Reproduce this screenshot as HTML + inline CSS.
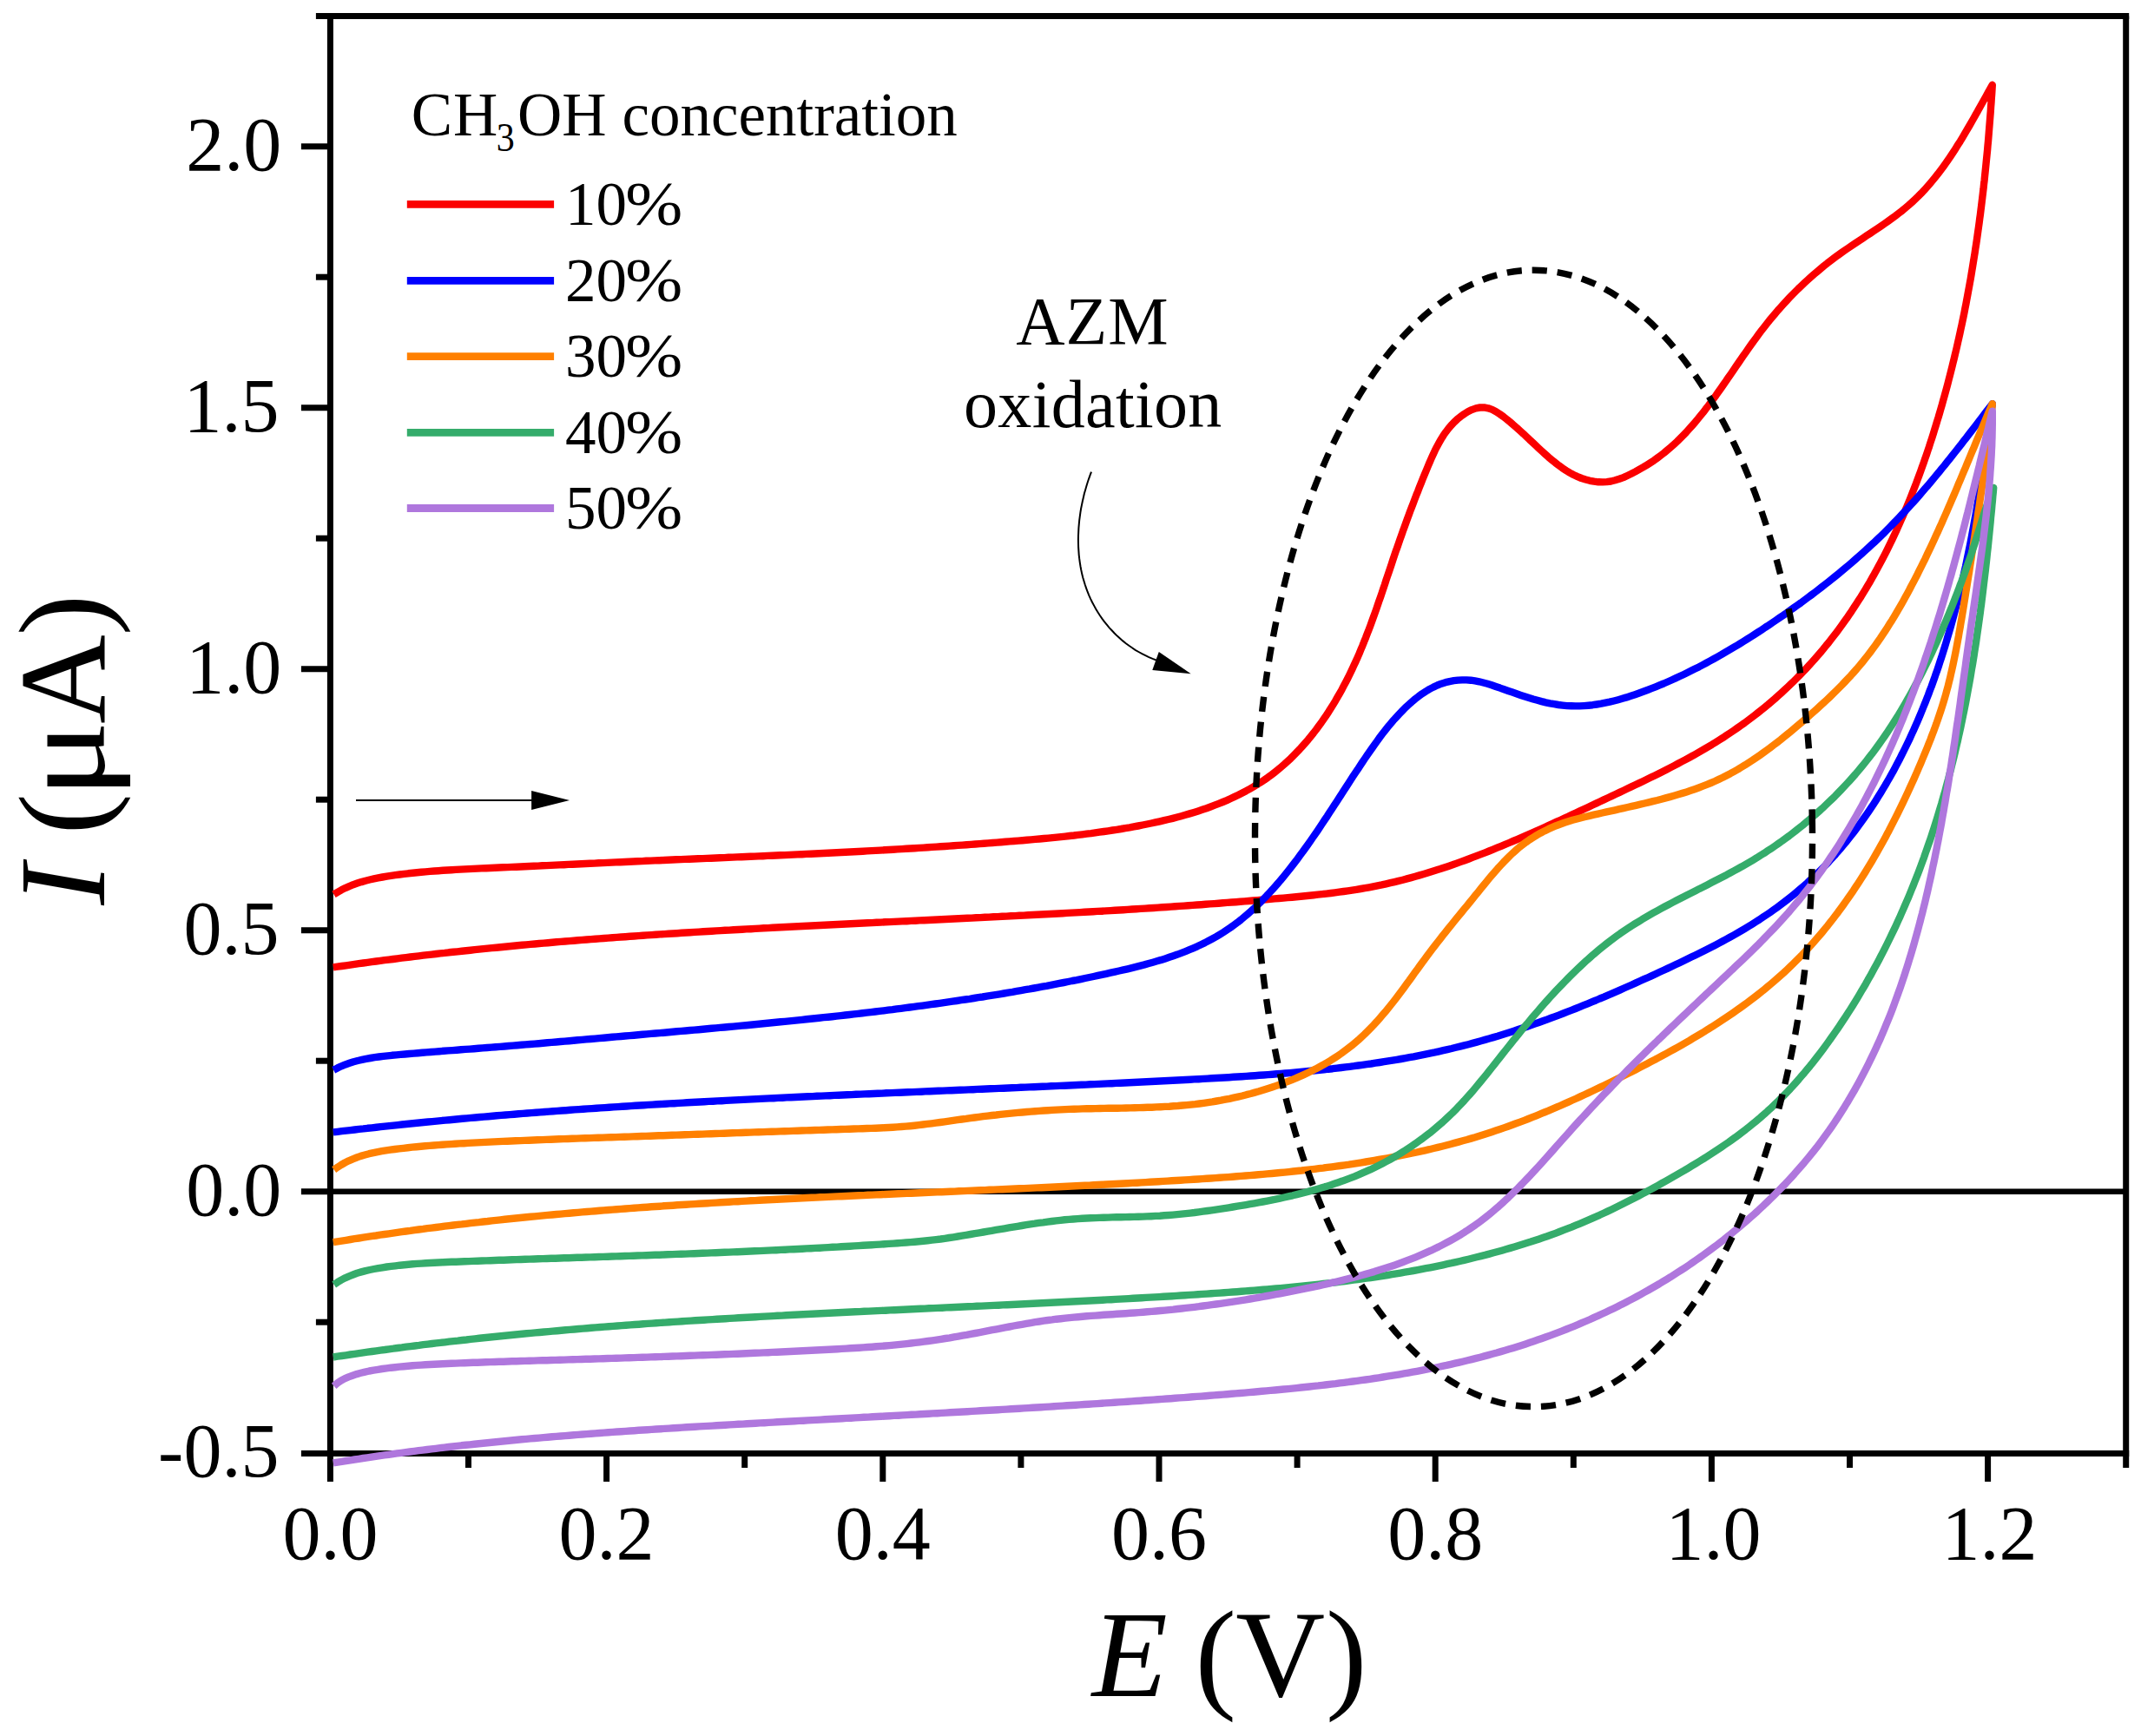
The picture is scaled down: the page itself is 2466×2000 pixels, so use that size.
<!DOCTYPE html>
<html><head><meta charset="utf-8"><title>CV</title>
<style>
html,body{margin:0;padding:0;background:#fff;}
svg{display:block;}
text{font-family:"Liberation Serif","Times New Roman",serif;fill:#000;}
</style></head><body>
<svg xmlns="http://www.w3.org/2000/svg" width="2466" height="2000" viewBox="0 0 2466 2000">
<rect width="2466" height="2000" fill="#fff"/>

<g stroke="#000" stroke-width="7" fill="none" stroke-linecap="butt">
<path d="M376.9,1674.5 H2452.2"/>
<path d="M363.9,18.5 H2452.2"/>
<path d="M380.4,18.5 V1707.0"/>
<path d="M2448.7,18.5 V1691.0"/>
<path d="M380.4,1372.7 H2448.7" stroke-width="6.6"/>
<path d="M539.5,1674.5 V1691.0"/>
<path d="M698.6,1674.5 V1707.0"/>
<path d="M857.7,1674.5 V1691.0"/>
<path d="M1016.8,1674.5 V1707.0"/>
<path d="M1175.9,1674.5 V1691.0"/>
<path d="M1335.0,1674.5 V1707.0"/>
<path d="M1494.1,1674.5 V1691.0"/>
<path d="M1653.2,1674.5 V1707.0"/>
<path d="M1812.3,1674.5 V1691.0"/>
<path d="M1971.4,1674.5 V1707.0"/>
<path d="M2130.5,1674.5 V1691.0"/>
<path d="M2289.6,1674.5 V1707.0"/>
<path d="M380.4,1674.5 H346.9"/>
<path d="M380.4,1523.2 H363.9"/>
<path d="M380.4,1372.7 H346.9"/>
<path d="M380.4,1222.2 H363.9"/>
<path d="M380.4,1071.7 H346.9"/>
<path d="M380.4,921.2 H363.9"/>
<path d="M380.4,770.7 H346.9"/>
<path d="M380.4,620.2 H363.9"/>
<path d="M380.4,469.7 H346.9"/>
<path d="M380.4,319.2 H363.9"/>
<path d="M380.4,168.7 H346.9"/>
</g>
<g font-size="88px">
<text x="380.4" y="1796" text-anchor="middle">0.0</text>
<text x="698.6" y="1796" text-anchor="middle">0.2</text>
<text x="1016.8" y="1796" text-anchor="middle">0.4</text>
<text x="1335.0" y="1796" text-anchor="middle">0.6</text>
<text x="1653.2" y="1796" text-anchor="middle">0.8</text>
<text x="1973.4" y="1796" text-anchor="middle">1.0</text>
<text x="2291.6" y="1796" text-anchor="middle">1.2</text>
<text x="321.4" y="1700.7" text-anchor="end">-0.5</text>
<text x="324.2" y="1399.7" text-anchor="end">0.0</text>
<text x="321.4" y="1098.7" text-anchor="end">0.5</text>
<text x="324.2" y="797.7" text-anchor="end">1.0</text>
<text x="321.4" y="496.7" text-anchor="end">1.5</text>
<text x="324.2" y="195.7" text-anchor="end">2.0</text>
</g>
<g font-size="142.5px">
<text x="1257.7" y="1954" font-style="italic">E</text>
<text x="1376.6" y="1954" font-style="normal">(</text>
<text x="1423.2" y="1954" font-style="normal">V</text>
<text x="1526.9" y="1954" font-style="normal">)</text>
<g transform="translate(120.2,1047) rotate(-90)">
<text x="4.3" y="0" font-style="italic">I</text>
<text x="85.6" y="0" font-style="normal">(</text>
<text x="127.5" y="0" font-style="normal" textLength="89.3" lengthAdjust="spacingAndGlyphs">μ</text>
<text x="213.1" y="0" font-style="normal">A</text>
<text x="314.7" y="0" font-style="normal">)</text>
</g></g>
<g fill="none" stroke-width="8.4" stroke-linejoin="round" stroke-linecap="butt">
<path stroke="#fb0000" d="M384.5,1030.4 L388.8,1027.8 L393.2,1025.3 L397.7,1023.1 L402.2,1021.1 L406.8,1019.2 L411.5,1017.6 L416.2,1016.1 L421.0,1014.7 L425.8,1013.5 L430.7,1012.4 L435.6,1011.4 L440.5,1010.5 L445.4,1009.7 L450.4,1008.9 L455.3,1008.2 L460.3,1007.5 L465.3,1006.9 L470.2,1006.3 L475.2,1005.8 L480.2,1005.3 L485.1,1004.8 L490.1,1004.4 L495.1,1003.9 L500.1,1003.5 L505.0,1003.2 L510.0,1002.8 L515.0,1002.5 L520.0,1002.2 L524.9,1001.9 L529.9,1001.6 L534.9,1001.4 L539.9,1001.1 L544.9,1000.9 L549.8,1000.6 L554.8,1000.4 L559.8,1000.2 L564.8,1000.0 L569.8,999.8 L574.8,999.5 L579.7,999.3 L584.7,999.1 L589.7,998.9 L594.7,998.7 L599.7,998.5 L604.7,998.2 L609.7,998.0 L614.7,997.8 L619.6,997.6 L624.6,997.3 L629.6,997.1 L634.6,996.9 L639.6,996.6 L644.6,996.4 L649.6,996.2 L654.6,995.9 L659.6,995.7 L664.5,995.5 L669.5,995.2 L674.5,995.0 L679.5,994.8 L684.5,994.6 L689.5,994.3 L694.5,994.1 L699.5,993.9 L704.4,993.6 L709.4,993.4 L714.4,993.2 L719.4,993.0 L724.4,992.7 L729.4,992.5 L734.4,992.3 L739.4,992.1 L744.3,991.8 L749.3,991.6 L754.3,991.4 L759.3,991.2 L764.3,991.0 L769.3,990.8 L774.3,990.5 L779.2,990.3 L784.2,990.1 L789.2,989.9 L794.2,989.7 L799.2,989.5 L804.2,989.3 L809.1,989.1 L814.1,988.9 L819.1,988.7 L824.1,988.5 L829.1,988.3 L834.1,988.1 L839.1,987.8 L844.0,987.6 L849.0,987.4 L854.0,987.2 L859.0,987.0 L864.0,986.8 L869.0,986.6 L873.9,986.4 L878.9,986.2 L883.9,985.9 L888.9,985.7 L893.9,985.5 L898.9,985.3 L903.9,985.1 L908.9,984.9 L913.8,984.6 L918.8,984.4 L923.8,984.2 L928.8,983.9 L933.8,983.7 L938.8,983.5 L943.8,983.2 L948.8,983.0 L953.8,982.7 L958.8,982.5 L963.8,982.3 L968.7,982.0 L973.7,981.7 L978.7,981.5 L983.7,981.2 L988.7,981.0 L993.7,980.7 L998.7,980.4 L1003.7,980.1 L1008.7,979.9 L1013.7,979.6 L1018.7,979.3 L1023.7,979.0 L1028.7,978.7 L1033.7,978.4 L1038.7,978.1 L1043.7,977.8 L1048.6,977.5 L1053.6,977.2 L1058.6,976.9 L1063.6,976.6 L1068.6,976.3 L1073.6,975.9 L1078.6,975.6 L1083.5,975.3 L1088.5,975.0 L1093.5,974.6 L1098.5,974.3 L1103.4,973.9 L1108.4,973.6 L1113.4,973.2 L1118.3,972.9 L1123.3,972.5 L1128.3,972.1 L1133.2,971.8 L1138.2,971.4 L1143.1,971.0 L1148.1,970.6 L1153.0,970.2 L1158.0,969.8 L1162.9,969.4 L1167.9,969.0 L1172.8,968.6 L1177.7,968.2 L1182.7,967.8 L1187.6,967.4 L1192.5,966.9 L1197.5,966.5 L1202.4,966.0 L1207.3,965.6 L1212.2,965.1 L1217.2,964.6 L1222.1,964.1 L1227.0,963.6 L1231.9,963.0 L1236.9,962.5 L1241.8,961.9 L1246.7,961.3 L1251.6,960.7 L1256.6,960.1 L1261.5,959.4 L1266.4,958.7 L1271.4,958.0 L1276.3,957.3 L1281.3,956.5 L1286.2,955.8 L1291.2,955.0 L1296.1,954.1 L1301.1,953.3 L1306.0,952.4 L1311.0,951.5 L1316.0,950.5 L1321.0,949.5 L1325.9,948.5 L1330.9,947.4 L1335.9,946.3 L1340.8,945.2 L1345.8,944.0 L1350.7,942.8 L1355.7,941.5 L1360.6,940.2 L1365.5,938.8 L1370.3,937.4 L1375.2,935.9 L1380.0,934.4 L1384.8,932.8 L1389.6,931.2 L1394.3,929.5 L1399.0,927.7 L1403.7,925.9 L1408.4,924.0 L1413.0,922.1 L1417.5,920.0 L1422.0,917.9 L1426.5,915.8 L1430.9,913.5 L1435.3,911.2 L1439.6,908.8 L1443.8,906.4 L1448.0,903.8 L1452.2,901.2 L1456.3,898.5 L1460.3,895.7 L1464.2,892.8 L1468.1,889.8 L1471.9,886.8 L1475.7,883.6 L1479.4,880.4 L1483.0,877.1 L1486.6,873.8 L1490.1,870.3 L1493.5,866.8 L1496.9,863.3 L1500.2,859.6 L1503.5,855.9 L1506.7,852.2 L1509.8,848.3 L1512.9,844.5 L1516.0,840.5 L1518.9,836.5 L1521.9,832.5 L1524.7,828.4 L1527.5,824.3 L1530.3,820.1 L1533.0,815.8 L1535.6,811.6 L1538.2,807.3 L1540.7,802.9 L1543.2,798.6 L1545.7,794.2 L1548.0,789.7 L1550.4,785.2 L1552.7,780.8 L1554.9,776.2 L1557.1,771.7 L1559.2,767.1 L1561.3,762.6 L1563.4,758.0 L1565.4,753.4 L1567.3,748.7 L1569.3,744.1 L1571.1,739.4 L1573.0,734.8 L1574.8,730.1 L1576.6,725.4 L1578.4,720.7 L1580.1,716.0 L1581.8,711.3 L1583.5,706.6 L1585.2,701.9 L1586.8,697.2 L1588.4,692.4 L1590.1,687.7 L1591.7,683.0 L1593.3,678.2 L1594.9,673.5 L1596.4,668.7 L1598.0,664.0 L1599.6,659.3 L1601.2,654.6 L1602.8,649.8 L1604.3,645.1 L1605.9,640.4 L1607.5,635.7 L1609.2,631.0 L1610.8,626.3 L1612.4,621.7 L1614.1,617.0 L1615.7,612.3 L1617.4,607.7 L1619.1,603.0 L1620.8,598.3 L1622.5,593.7 L1624.2,589.0 L1626.0,584.4 L1627.8,579.7 L1629.5,575.1 L1631.3,570.4 L1633.2,565.8 L1635.0,561.1 L1636.9,556.4 L1638.7,551.8 L1640.6,547.1 L1642.6,542.4 L1644.5,537.7 L1646.5,533.0 L1648.5,528.4 L1650.6,523.7 L1652.7,519.2 L1655.0,514.7 L1657.4,510.3 L1659.9,505.9 L1662.5,501.7 L1665.3,497.7 L1668.3,493.8 L1671.5,490.0 L1674.9,486.4 L1678.4,483.1 L1682.3,479.9 L1686.4,477.0 L1690.7,474.3 L1695.2,472.1 L1699.9,470.4 L1704.7,469.5 L1709.4,469.4 L1714.1,470.3 L1718.7,471.9 L1723.1,474.2 L1727.4,477.0 L1731.6,480.0 L1735.7,483.2 L1739.7,486.5 L1743.5,489.8 L1747.3,493.1 L1751.0,496.5 L1754.7,499.8 L1758.3,503.2 L1761.8,506.6 L1765.4,509.9 L1769.0,513.3 L1772.6,516.7 L1776.2,520.0 L1779.9,523.4 L1783.6,526.7 L1787.5,529.9 L1791.4,533.1 L1795.4,536.2 L1799.5,539.2 L1803.7,542.0 L1808.0,544.6 L1812.4,547.0 L1817.0,549.1 L1821.6,551.0 L1826.4,552.5 L1831.2,553.8 L1836.0,554.7 L1840.9,555.3 L1845.8,555.4 L1850.7,555.1 L1855.5,554.5 L1860.3,553.3 L1865.1,551.8 L1869.8,550.1 L1874.4,548.0 L1879.0,545.8 L1883.6,543.4 L1888.0,540.9 L1892.4,538.4 L1896.7,535.8 L1901.0,533.1 L1905.1,530.4 L1909.1,527.5 L1913.1,524.5 L1917.0,521.5 L1920.8,518.3 L1924.5,515.1 L1928.2,511.8 L1931.8,508.5 L1935.3,505.0 L1938.8,501.5 L1942.2,498.0 L1945.5,494.3 L1948.8,490.6 L1952.0,486.9 L1955.2,483.1 L1958.4,479.2 L1961.5,475.4 L1964.5,471.4 L1967.6,467.5 L1970.6,463.5 L1973.5,459.4 L1976.5,455.4 L1979.4,451.3 L1982.3,447.2 L1985.2,443.0 L1988.1,438.9 L1990.9,434.7 L1993.8,430.6 L1996.7,426.4 L1999.5,422.2 L2002.4,418.0 L2005.2,413.9 L2008.1,409.7 L2011.0,405.6 L2013.9,401.4 L2016.8,397.3 L2019.7,393.2 L2022.7,389.2 L2025.7,385.1 L2028.7,381.1 L2031.7,377.2 L2034.8,373.2 L2037.9,369.3 L2041.1,365.5 L2044.3,361.7 L2047.5,357.9 L2050.8,354.2 L2054.1,350.5 L2057.5,346.8 L2060.9,343.2 L2064.3,339.6 L2067.8,336.1 L2071.3,332.6 L2074.9,329.2 L2078.5,325.8 L2082.1,322.5 L2085.8,319.2 L2089.5,315.9 L2093.3,312.7 L2097.1,309.5 L2100.9,306.3 L2104.8,303.2 L2108.8,300.2 L2112.7,297.2 L2116.7,294.2 L2120.8,291.3 L2124.9,288.4 L2129.0,285.6 L2133.2,282.8 L2137.3,280.0 L2141.5,277.2 L2145.7,274.4 L2149.9,271.6 L2154.1,268.9 L2158.3,266.1 L2162.5,263.3 L2166.6,260.5 L2170.7,257.6 L2174.8,254.7 L2178.9,251.8 L2182.9,248.9 L2186.9,245.8 L2190.8,242.8 L2194.6,239.6 L2198.4,236.4 L2202.1,233.1 L2205.7,229.7 L2209.3,226.3 L2212.8,222.8 L2216.2,219.2 L2219.5,215.5 L2222.8,211.7 L2226.0,207.9 L2229.1,204.1 L2232.2,200.2 L2235.2,196.2 L2238.2,192.2 L2241.1,188.1 L2244.0,184.0 L2246.8,179.8 L2249.6,175.6 L2252.3,171.4 L2255.0,167.1 L2257.7,162.9 L2260.3,158.6 L2262.9,154.2 L2265.4,149.9 L2268.0,145.5 L2270.5,141.2 L2273.0,136.8 L2275.4,132.4 L2277.9,128.1 L2280.3,123.7 L2282.8,119.3 L2285.2,115.0 L2287.6,110.7 L2290.0,106.4 L2292.4,102.1 L2294.8,97.8 L2294.5,102.8 L2294.2,107.9 L2293.8,112.9 L2293.5,117.9 L2293.1,122.9 L2292.8,127.9 L2292.4,132.9 L2292.0,137.9 L2291.6,142.9 L2291.2,147.9 L2290.8,152.9 L2290.4,157.9 L2290.0,162.9 L2289.5,167.9 L2289.1,172.9 L2288.6,177.9 L2288.1,182.8 L2287.6,187.8 L2287.1,192.8 L2286.6,197.7 L2286.1,202.7 L2285.6,207.7 L2285.0,212.6 L2284.5,217.6 L2283.9,222.5 L2283.3,227.5 L2282.7,232.4 L2282.1,237.4 L2281.5,242.3 L2280.9,247.2 L2280.2,252.2 L2279.6,257.1 L2278.9,262.0 L2278.2,266.9 L2277.5,271.9 L2276.8,276.8 L2276.1,281.7 L2275.3,286.6 L2274.6,291.5 L2273.8,296.4 L2273.0,301.3 L2272.2,306.2 L2271.4,311.1 L2270.6,316.0 L2269.8,320.9 L2268.9,325.8 L2268.0,330.7 L2267.1,335.6 L2266.2,340.4 L2265.3,345.3 L2264.4,350.2 L2263.4,355.1 L2262.5,359.9 L2261.5,364.8 L2260.5,369.7 L2259.5,374.5 L2258.4,379.4 L2257.4,384.2 L2256.3,389.1 L2255.2,393.9 L2254.1,398.8 L2253.0,403.6 L2251.8,408.5 L2250.7,413.3 L2249.5,418.1 L2248.3,423.0 L2247.1,427.8 L2245.9,432.6 L2244.6,437.5 L2243.4,442.3 L2242.1,447.1 L2240.8,451.9 L2239.5,456.7 L2238.1,461.5 L2236.8,466.3 L2235.4,471.1 L2234.0,476.0 L2232.6,480.8 L2231.1,485.5 L2229.7,490.3 L2228.2,495.1 L2226.7,499.9 L2225.2,504.7 L2223.6,509.5 L2222.1,514.3 L2220.5,519.0 L2218.9,523.8 L2217.2,528.6 L2215.6,533.3 L2213.9,538.0 L2212.2,542.8 L2210.5,547.5 L2208.7,552.2 L2207.0,556.9 L2205.2,561.6 L2203.3,566.3 L2201.5,571.0 L2199.6,575.7 L2197.7,580.3 L2195.8,585.0 L2193.8,589.6 L2191.9,594.2 L2189.8,598.8 L2187.8,603.4 L2185.7,608.0 L2183.7,612.5 L2181.5,617.1 L2179.4,621.6 L2177.2,626.1 L2175.0,630.6 L2172.8,635.1 L2170.5,639.6 L2168.2,644.0 L2165.9,648.4 L2163.5,652.8 L2161.1,657.2 L2158.7,661.6 L2156.2,665.9 L2153.8,670.3 L2151.2,674.6 L2148.7,678.9 L2146.1,683.1 L2143.5,687.4 L2140.8,691.6 L2138.1,695.8 L2135.4,699.9 L2132.7,704.1 L2129.9,708.2 L2127.1,712.3 L2124.2,716.3 L2121.3,720.4 L2118.4,724.4 L2115.4,728.4 L2112.4,732.3 L2109.3,736.3 L2106.3,740.2 L2103.1,744.0 L2100.0,747.9 L2096.8,751.7 L2093.5,755.5 L2090.3,759.2 L2086.9,763.0 L2083.6,766.6 L2080.2,770.3 L2076.8,773.9 L2073.3,777.5 L2069.8,781.1 L2066.3,784.6 L2062.7,788.1 L2059.1,791.5 L2055.4,794.9 L2051.7,798.3 L2048.0,801.7 L2044.3,805.0 L2040.5,808.2 L2036.7,811.5 L2032.8,814.7 L2029.0,817.8 L2025.1,820.9 L2021.1,824.0 L2017.2,827.0 L2013.2,830.0 L2009.2,833.0 L2005.1,835.9 L2001.0,838.8 L1996.9,841.6 L1992.8,844.4 L1988.7,847.1 L1984.5,849.9 L1980.3,852.5 L1976.0,855.2 L1971.8,857.8 L1967.5,860.3 L1963.2,862.9 L1958.9,865.4 L1954.6,867.8 L1950.3,870.3 L1945.9,872.7 L1941.5,875.1 L1937.1,877.4 L1932.7,879.8 L1928.3,882.1 L1923.9,884.4 L1919.4,886.7 L1915.0,888.9 L1910.5,891.2 L1906.0,893.4 L1901.6,895.6 L1897.1,897.8 L1892.6,900.0 L1888.1,902.1 L1883.5,904.3 L1879.0,906.4 L1874.5,908.6 L1870.0,910.7 L1865.4,912.9 L1860.9,915.0 L1856.4,917.1 L1851.9,919.2 L1847.3,921.4 L1842.8,923.5 L1838.3,925.6 L1833.7,927.7 L1829.2,929.9 L1824.7,932.0 L1820.2,934.1 L1815.6,936.2 L1811.1,938.3 L1806.6,940.5 L1802.0,942.6 L1797.5,944.7 L1793.0,946.7 L1788.4,948.8 L1783.9,950.9 L1779.3,953.0 L1774.8,955.0 L1770.2,957.1 L1765.7,959.1 L1761.1,961.1 L1756.5,963.1 L1752.0,965.1 L1747.4,967.1 L1742.8,969.0 L1738.2,971.0 L1733.6,972.9 L1729.0,974.8 L1724.4,976.7 L1719.8,978.6 L1715.1,980.5 L1710.5,982.3 L1705.8,984.1 L1701.2,985.9 L1696.5,987.7 L1691.8,989.5 L1687.2,991.2 L1682.5,992.9 L1677.8,994.6 L1673.1,996.3 L1668.3,997.9 L1663.6,999.5 L1658.9,1001.1 L1654.1,1002.6 L1649.4,1004.1 L1644.6,1005.6 L1639.8,1007.0 L1635.0,1008.4 L1630.2,1009.8 L1625.4,1011.1 L1620.6,1012.4 L1615.8,1013.7 L1611.0,1014.9 L1606.1,1016.1 L1601.3,1017.2 L1596.4,1018.3 L1591.6,1019.4 L1586.7,1020.4 L1581.8,1021.4 L1577.0,1022.3 L1572.1,1023.2 L1567.2,1024.0 L1562.3,1024.8 L1557.3,1025.6 L1552.4,1026.3 L1547.5,1027.0 L1542.6,1027.7 L1537.6,1028.4 L1532.7,1029.0 L1527.7,1029.6 L1522.8,1030.1 L1517.8,1030.7 L1512.9,1031.2 L1507.9,1031.7 L1503.0,1032.2 L1498.0,1032.7 L1493.0,1033.2 L1488.1,1033.7 L1483.1,1034.1 L1478.1,1034.6 L1473.1,1035.0 L1468.2,1035.4 L1463.2,1035.9 L1458.2,1036.3 L1453.3,1036.7 L1448.3,1037.1 L1443.3,1037.5 L1438.3,1038.0 L1433.4,1038.4 L1428.4,1038.8 L1423.4,1039.2 L1418.4,1039.5 L1413.4,1039.9 L1408.5,1040.3 L1403.5,1040.7 L1398.5,1041.1 L1393.5,1041.4 L1388.6,1041.8 L1383.6,1042.2 L1378.6,1042.5 L1373.6,1042.9 L1368.6,1043.2 L1363.7,1043.6 L1358.7,1043.9 L1353.7,1044.3 L1348.7,1044.6 L1343.7,1045.0 L1338.7,1045.3 L1333.8,1045.6 L1328.8,1046.0 L1323.8,1046.3 L1318.8,1046.6 L1313.8,1046.9 L1308.8,1047.2 L1303.8,1047.5 L1298.9,1047.9 L1293.9,1048.2 L1288.9,1048.5 L1283.9,1048.8 L1278.9,1049.1 L1273.9,1049.4 L1268.9,1049.7 L1264.0,1049.9 L1259.0,1050.2 L1254.0,1050.5 L1249.0,1050.8 L1244.0,1051.1 L1239.0,1051.4 L1234.0,1051.6 L1229.0,1051.9 L1224.0,1052.2 L1219.1,1052.5 L1214.1,1052.7 L1209.1,1053.0 L1204.1,1053.3 L1199.1,1053.5 L1194.1,1053.8 L1189.1,1054.0 L1184.1,1054.3 L1179.1,1054.6 L1174.1,1054.8 L1169.2,1055.1 L1164.2,1055.3 L1159.2,1055.6 L1154.2,1055.8 L1149.2,1056.1 L1144.2,1056.3 L1139.2,1056.6 L1134.2,1056.8 L1129.2,1057.1 L1124.2,1057.3 L1119.2,1057.6 L1114.2,1057.8 L1109.3,1058.0 L1104.3,1058.3 L1099.3,1058.5 L1094.3,1058.8 L1089.3,1059.0 L1084.3,1059.3 L1079.3,1059.5 L1074.3,1059.7 L1069.3,1060.0 L1064.3,1060.2 L1059.3,1060.4 L1054.3,1060.7 L1049.4,1060.9 L1044.4,1061.2 L1039.4,1061.4 L1034.4,1061.6 L1029.4,1061.9 L1024.4,1062.1 L1019.4,1062.3 L1014.4,1062.6 L1009.4,1062.8 L1004.4,1063.1 L999.4,1063.3 L994.5,1063.5 L989.5,1063.8 L984.5,1064.0 L979.5,1064.3 L974.5,1064.5 L969.5,1064.8 L964.5,1065.0 L959.5,1065.2 L954.5,1065.5 L949.5,1065.7 L944.6,1066.0 L939.6,1066.2 L934.6,1066.5 L929.6,1066.7 L924.6,1067.0 L919.6,1067.3 L914.6,1067.5 L909.6,1067.8 L904.7,1068.0 L899.7,1068.3 L894.7,1068.5 L889.7,1068.8 L884.7,1069.1 L879.7,1069.3 L874.7,1069.6 L869.8,1069.9 L864.8,1070.2 L859.8,1070.4 L854.8,1070.7 L849.8,1071.0 L844.8,1071.3 L839.9,1071.6 L834.9,1071.8 L829.9,1072.1 L824.9,1072.4 L819.9,1072.7 L814.9,1073.0 L810.0,1073.3 L805.0,1073.6 L800.0,1073.9 L795.0,1074.2 L790.0,1074.5 L785.1,1074.8 L780.1,1075.2 L775.1,1075.5 L770.1,1075.8 L765.2,1076.1 L760.2,1076.4 L755.2,1076.8 L750.2,1077.1 L745.3,1077.4 L740.3,1077.8 L735.3,1078.1 L730.3,1078.5 L725.4,1078.8 L720.4,1079.2 L715.4,1079.5 L710.4,1079.9 L705.5,1080.2 L700.5,1080.6 L695.5,1081.0 L690.6,1081.4 L685.6,1081.7 L680.6,1082.1 L675.7,1082.5 L670.7,1082.9 L665.7,1083.3 L660.8,1083.7 L655.8,1084.1 L650.8,1084.5 L645.9,1084.9 L640.9,1085.3 L635.9,1085.8 L631.0,1086.2 L626.0,1086.6 L621.0,1087.0 L616.1,1087.5 L611.1,1087.9 L606.2,1088.4 L601.2,1088.8 L596.2,1089.3 L591.3,1089.8 L586.3,1090.2 L581.4,1090.7 L576.4,1091.2 L571.5,1091.7 L566.5,1092.1 L561.6,1092.6 L556.6,1093.1 L551.7,1093.6 L546.7,1094.2 L541.8,1094.7 L536.8,1095.2 L531.9,1095.7 L526.9,1096.3 L522.0,1096.8 L517.0,1097.3 L512.1,1097.9 L507.1,1098.4 L502.2,1099.0 L497.2,1099.6 L492.3,1100.1 L487.4,1100.7 L482.4,1101.3 L477.5,1101.9 L472.5,1102.5 L467.6,1103.1 L462.7,1103.7 L457.7,1104.3 L452.8,1105.0 L447.9,1105.6 L442.9,1106.2 L438.0,1106.9 L433.1,1107.5 L428.1,1108.2 L423.2,1108.8 L418.3,1109.5 L413.3,1110.2 L408.4,1110.9 L403.5,1111.6 L398.6,1112.3 L393.6,1113.0 L388.7,1113.7 L383.8,1114.4"/>
<path stroke="#0000ff" d="M384.2,1232.7 L388.7,1230.4 L393.2,1228.3 L397.8,1226.4 L402.5,1224.8 L407.2,1223.3 L412.0,1222.0 L416.9,1220.9 L421.7,1219.9 L426.6,1219.0 L431.5,1218.2 L436.5,1217.5 L441.5,1216.9 L446.4,1216.4 L451.4,1215.8 L456.4,1215.4 L461.4,1214.9 L466.4,1214.5 L471.4,1214.0 L476.4,1213.6 L481.3,1213.2 L486.3,1212.8 L491.3,1212.4 L496.3,1212.0 L501.2,1211.6 L506.2,1211.2 L511.2,1210.8 L516.2,1210.4 L521.1,1210.1 L526.1,1209.7 L531.1,1209.3 L536.0,1208.9 L541.0,1208.6 L546.0,1208.2 L551.0,1207.8 L555.9,1207.4 L560.9,1207.0 L565.9,1206.6 L570.8,1206.2 L575.8,1205.9 L580.8,1205.5 L585.8,1205.0 L590.7,1204.6 L595.7,1204.2 L600.7,1203.8 L605.6,1203.4 L610.6,1203.0 L615.6,1202.6 L620.6,1202.2 L625.5,1201.7 L630.5,1201.3 L635.5,1200.9 L640.5,1200.5 L645.4,1200.0 L650.4,1199.6 L655.4,1199.2 L660.4,1198.7 L665.3,1198.3 L670.3,1197.9 L675.3,1197.4 L680.3,1197.0 L685.2,1196.6 L690.2,1196.1 L695.2,1195.7 L700.2,1195.3 L705.1,1194.8 L710.1,1194.4 L715.1,1194.0 L720.0,1193.5 L725.0,1193.1 L730.0,1192.7 L735.0,1192.2 L739.9,1191.8 L744.9,1191.4 L749.9,1190.9 L754.9,1190.5 L759.8,1190.1 L764.8,1189.7 L769.8,1189.2 L774.8,1188.8 L779.7,1188.3 L784.7,1187.9 L789.7,1187.5 L794.6,1187.0 L799.6,1186.6 L804.6,1186.2 L809.6,1185.7 L814.5,1185.3 L819.5,1184.8 L824.5,1184.4 L829.4,1183.9 L834.4,1183.5 L839.4,1183.0 L844.3,1182.6 L849.3,1182.1 L854.3,1181.6 L859.3,1181.2 L864.2,1180.7 L869.2,1180.2 L874.2,1179.8 L879.1,1179.3 L884.1,1178.8 L889.1,1178.3 L894.0,1177.8 L899.0,1177.3 L903.9,1176.9 L908.9,1176.4 L913.9,1175.9 L918.8,1175.4 L923.8,1174.8 L928.8,1174.3 L933.7,1173.8 L938.7,1173.3 L943.6,1172.8 L948.6,1172.2 L953.6,1171.7 L958.5,1171.2 L963.5,1170.6 L968.4,1170.1 L973.4,1169.5 L978.3,1169.0 L983.3,1168.4 L988.3,1167.8 L993.2,1167.3 L998.2,1166.7 L1003.1,1166.1 L1008.1,1165.5 L1013.0,1164.9 L1018.0,1164.3 L1022.9,1163.7 L1027.9,1163.1 L1032.8,1162.4 L1037.8,1161.8 L1042.7,1161.2 L1047.7,1160.5 L1052.6,1159.9 L1057.6,1159.2 L1062.5,1158.6 L1067.5,1157.9 L1072.4,1157.2 L1077.3,1156.5 L1082.3,1155.8 L1087.2,1155.1 L1092.2,1154.4 L1097.1,1153.7 L1102.0,1153.0 L1107.0,1152.2 L1111.9,1151.5 L1116.9,1150.8 L1121.8,1150.0 L1126.7,1149.2 L1131.7,1148.5 L1136.6,1147.7 L1141.5,1146.9 L1146.5,1146.1 L1151.4,1145.3 L1156.3,1144.5 L1161.2,1143.6 L1166.2,1142.8 L1171.1,1141.9 L1176.0,1141.1 L1180.9,1140.2 L1185.9,1139.4 L1190.8,1138.5 L1195.7,1137.6 L1200.6,1136.7 L1205.6,1135.8 L1210.5,1134.8 L1215.4,1133.9 L1220.3,1132.9 L1225.2,1132.0 L1230.1,1131.0 L1235.0,1130.0 L1240.0,1129.1 L1244.9,1128.1 L1249.8,1127.0 L1254.7,1126.0 L1259.6,1125.0 L1264.5,1123.9 L1269.4,1122.9 L1274.3,1121.8 L1279.2,1120.7 L1284.1,1119.6 L1289.0,1118.5 L1293.9,1117.4 L1298.8,1116.3 L1303.7,1115.1 L1308.5,1113.9 L1313.4,1112.6 L1318.2,1111.4 L1323.0,1110.0 L1327.8,1108.7 L1332.6,1107.3 L1337.4,1105.9 L1342.1,1104.4 L1346.8,1102.8 L1351.5,1101.2 L1356.2,1099.6 L1360.8,1097.9 L1365.4,1096.1 L1370.0,1094.2 L1374.5,1092.3 L1379.0,1090.3 L1383.4,1088.2 L1387.8,1086.1 L1392.2,1083.8 L1396.5,1081.5 L1400.8,1079.1 L1405.0,1076.6 L1409.2,1074.0 L1413.3,1071.3 L1417.4,1068.5 L1421.4,1065.6 L1425.4,1062.7 L1429.3,1059.6 L1433.1,1056.4 L1436.9,1053.2 L1440.7,1049.9 L1444.4,1046.5 L1448.1,1043.0 L1451.7,1039.5 L1455.2,1035.9 L1458.8,1032.2 L1462.2,1028.5 L1465.7,1024.7 L1469.0,1020.9 L1472.4,1017.1 L1475.7,1013.2 L1478.9,1009.3 L1482.1,1005.4 L1485.3,1001.4 L1488.4,997.4 L1491.5,993.4 L1494.5,989.4 L1497.5,985.3 L1500.5,981.3 L1503.4,977.2 L1506.3,973.2 L1509.2,969.1 L1512.0,965.0 L1514.9,960.9 L1517.7,956.8 L1520.4,952.7 L1523.2,948.5 L1525.9,944.4 L1528.7,940.3 L1531.4,936.1 L1534.1,932.0 L1536.8,927.8 L1539.5,923.7 L1542.2,919.5 L1544.9,915.4 L1547.5,911.2 L1550.2,907.1 L1552.9,902.9 L1555.6,898.8 L1558.3,894.6 L1561.0,890.5 L1563.8,886.4 L1566.5,882.2 L1569.2,878.1 L1572.0,874.0 L1574.8,869.9 L1577.6,865.8 L1580.5,861.7 L1583.4,857.6 L1586.3,853.6 L1589.2,849.5 L1592.2,845.5 L1595.3,841.6 L1598.4,837.7 L1601.6,833.8 L1604.8,830.0 L1608.2,826.3 L1611.6,822.6 L1615.1,819.0 L1618.6,815.4 L1622.3,812.0 L1626.1,808.6 L1630.0,805.3 L1634.0,802.2 L1638.1,799.2 L1642.3,796.5 L1646.6,793.9 L1651.0,791.6 L1655.5,789.5 L1660.1,787.7 L1664.9,786.2 L1669.6,785.1 L1674.5,784.2 L1679.3,783.6 L1684.2,783.4 L1689.1,783.4 L1694.0,783.7 L1698.9,784.4 L1703.7,785.3 L1708.5,786.5 L1713.3,787.8 L1718.1,789.3 L1722.9,791.0 L1727.7,792.6 L1732.4,794.3 L1737.2,796.0 L1742.0,797.6 L1746.8,799.3 L1751.6,800.9 L1756.4,802.5 L1761.2,804.0 L1766.0,805.5 L1770.8,806.8 L1775.6,808.1 L1780.5,809.3 L1785.3,810.3 L1790.2,811.2 L1795.0,812.0 L1799.9,812.6 L1804.8,813.1 L1809.7,813.3 L1814.6,813.4 L1819.5,813.4 L1824.5,813.1 L1829.4,812.7 L1834.3,812.2 L1839.2,811.5 L1844.2,810.7 L1849.1,809.7 L1854.0,808.7 L1858.9,807.5 L1863.8,806.2 L1868.7,804.8 L1873.5,803.4 L1878.4,801.8 L1883.2,800.2 L1888.0,798.5 L1892.7,796.8 L1897.5,795.0 L1902.2,793.2 L1906.9,791.3 L1911.5,789.4 L1916.2,787.5 L1920.8,785.5 L1925.3,783.5 L1929.9,781.4 L1934.4,779.3 L1938.9,777.2 L1943.4,775.0 L1947.8,772.8 L1952.3,770.6 L1956.7,768.4 L1961.0,766.1 L1965.4,763.7 L1969.7,761.4 L1974.1,759.0 L1978.4,756.6 L1982.7,754.2 L1986.9,751.7 L1991.2,749.2 L1995.4,746.7 L1999.7,744.2 L2003.9,741.6 L2008.1,739.0 L2012.3,736.4 L2016.5,733.7 L2020.6,731.1 L2024.8,728.4 L2029.0,725.7 L2033.1,722.9 L2037.3,720.2 L2041.4,717.4 L2045.5,714.6 L2049.6,711.8 L2053.8,709.0 L2057.9,706.1 L2061.9,703.2 L2066.0,700.3 L2070.1,697.4 L2074.2,694.5 L2078.2,691.5 L2082.2,688.5 L2086.3,685.5 L2090.3,682.5 L2094.2,679.5 L2098.2,676.4 L2102.2,673.3 L2106.1,670.2 L2110.1,667.0 L2114.0,663.9 L2117.9,660.7 L2121.7,657.5 L2125.6,654.3 L2129.4,651.1 L2133.2,647.8 L2137.0,644.5 L2140.8,641.2 L2144.5,637.9 L2148.2,634.5 L2151.9,631.1 L2155.6,627.7 L2159.3,624.3 L2162.9,620.9 L2166.5,617.4 L2170.1,613.9 L2173.6,610.4 L2177.1,606.9 L2180.6,603.3 L2184.1,599.7 L2187.5,596.1 L2190.9,592.5 L2194.3,588.8 L2197.7,585.2 L2201.0,581.5 L2204.4,577.8 L2207.7,574.1 L2210.9,570.4 L2214.2,566.6 L2217.4,562.8 L2220.7,559.1 L2223.9,555.3 L2227.1,551.4 L2230.2,547.6 L2233.4,543.8 L2236.5,539.9 L2239.7,536.1 L2242.8,532.2 L2245.9,528.3 L2249.0,524.4 L2252.1,520.5 L2255.2,516.6 L2258.3,512.7 L2261.3,508.7 L2264.4,504.8 L2267.4,500.9 L2270.5,496.9 L2273.5,493.0 L2276.6,489.0 L2279.6,485.1 L2282.7,481.1 L2285.7,477.1 L2288.7,473.1 L2291.8,469.2 L2294.8,465.2 L2294.1,470.2 L2293.5,475.1 L2292.8,480.1 L2292.1,485.0 L2291.4,490.0 L2290.7,495.0 L2290.0,499.9 L2289.3,504.9 L2288.6,509.8 L2287.9,514.8 L2287.2,519.7 L2286.5,524.7 L2285.7,529.6 L2285.0,534.6 L2284.3,539.5 L2283.5,544.4 L2282.7,549.4 L2282.0,554.3 L2281.2,559.3 L2280.4,564.2 L2279.6,569.1 L2278.8,574.0 L2277.9,579.0 L2277.1,583.9 L2276.3,588.8 L2275.4,593.7 L2274.5,598.6 L2273.6,603.5 L2272.7,608.4 L2271.8,613.3 L2270.9,618.2 L2270.0,623.1 L2269.0,628.0 L2268.0,632.9 L2267.0,637.8 L2266.0,642.6 L2265.0,647.5 L2264.0,652.4 L2262.9,657.2 L2261.8,662.1 L2260.7,666.9 L2259.6,671.8 L2258.5,676.6 L2257.3,681.5 L2256.2,686.3 L2255.0,691.1 L2253.8,696.0 L2252.5,700.8 L2251.3,705.6 L2250.0,710.4 L2248.7,715.2 L2247.4,720.0 L2246.0,724.8 L2244.6,729.6 L2243.2,734.3 L2241.8,739.1 L2240.4,743.9 L2238.9,748.6 L2237.4,753.4 L2235.9,758.1 L2234.3,762.9 L2232.8,767.6 L2231.2,772.3 L2229.5,777.0 L2227.9,781.8 L2226.2,786.5 L2224.5,791.2 L2222.7,795.8 L2221.0,800.5 L2219.1,805.2 L2217.3,809.9 L2215.4,814.5 L2213.5,819.2 L2211.6,823.8 L2209.7,828.4 L2207.7,833.1 L2205.6,837.7 L2203.6,842.3 L2201.5,846.8 L2199.4,851.4 L2197.2,856.0 L2195.0,860.5 L2192.8,865.0 L2190.5,869.5 L2188.3,874.0 L2185.9,878.5 L2183.6,882.9 L2181.2,887.4 L2178.8,891.8 L2176.3,896.2 L2173.8,900.5 L2171.3,904.9 L2168.7,909.2 L2166.1,913.5 L2163.4,917.8 L2160.8,922.0 L2158.1,926.2 L2155.3,930.4 L2152.5,934.6 L2149.7,938.7 L2146.8,942.8 L2143.9,946.9 L2141.0,950.9 L2138.0,954.9 L2135.0,958.9 L2132.0,962.8 L2128.9,966.7 L2125.8,970.6 L2122.6,974.4 L2119.4,978.2 L2116.1,981.9 L2112.9,985.7 L2109.5,989.3 L2106.2,993.0 L2102.8,996.6 L2099.3,1000.1 L2095.8,1003.6 L2092.3,1007.1 L2088.7,1010.5 L2085.1,1013.9 L2081.5,1017.3 L2077.8,1020.6 L2074.1,1023.8 L2070.3,1027.0 L2066.5,1030.2 L2062.7,1033.3 L2058.8,1036.4 L2054.9,1039.4 L2050.9,1042.4 L2047.0,1045.3 L2043.0,1048.2 L2038.9,1051.1 L2034.8,1053.9 L2030.7,1056.6 L2026.6,1059.4 L2022.4,1062.0 L2018.2,1064.7 L2014.0,1067.3 L2009.8,1069.8 L2005.5,1072.4 L2001.2,1074.9 L1996.9,1077.3 L1992.5,1079.7 L1988.2,1082.1 L1983.8,1084.5 L1979.4,1086.9 L1975.0,1089.2 L1970.5,1091.5 L1966.1,1093.7 L1961.6,1096.0 L1957.1,1098.2 L1952.6,1100.4 L1948.1,1102.6 L1943.6,1104.8 L1939.1,1107.0 L1934.5,1109.2 L1930.0,1111.3 L1925.4,1113.5 L1920.9,1115.6 L1916.3,1117.7 L1911.8,1119.8 L1907.2,1122.0 L1902.6,1124.1 L1898.0,1126.2 L1893.4,1128.2 L1888.8,1130.3 L1884.2,1132.4 L1879.6,1134.5 L1875.0,1136.5 L1870.4,1138.5 L1865.8,1140.6 L1861.2,1142.6 L1856.6,1144.6 L1851.9,1146.6 L1847.3,1148.6 L1842.6,1150.5 L1838.0,1152.5 L1833.3,1154.4 L1828.7,1156.3 L1824.0,1158.2 L1819.4,1160.1 L1814.7,1162.0 L1810.0,1163.8 L1805.3,1165.7 L1800.6,1167.5 L1795.9,1169.3 L1791.2,1171.1 L1786.5,1172.8 L1781.8,1174.6 L1777.1,1176.3 L1772.4,1178.0 L1767.7,1179.6 L1762.9,1181.3 L1758.2,1182.9 L1753.4,1184.5 L1748.7,1186.1 L1743.9,1187.7 L1739.2,1189.2 L1734.4,1190.7 L1729.6,1192.2 L1724.9,1193.7 L1720.1,1195.1 L1715.3,1196.5 L1710.5,1197.9 L1705.7,1199.3 L1700.9,1200.6 L1696.1,1201.9 L1691.3,1203.2 L1686.5,1204.4 L1681.6,1205.6 L1676.8,1206.8 L1672.0,1208.0 L1667.1,1209.1 L1662.3,1210.2 L1657.4,1211.3 L1652.6,1212.4 L1647.7,1213.4 L1642.9,1214.4 L1638.0,1215.4 L1633.1,1216.3 L1628.3,1217.3 L1623.4,1218.2 L1618.5,1219.1 L1613.6,1220.0 L1608.7,1220.8 L1603.8,1221.6 L1598.9,1222.4 L1594.0,1223.2 L1589.1,1224.0 L1584.2,1224.7 L1579.3,1225.5 L1574.3,1226.2 L1569.4,1226.9 L1564.5,1227.5 L1559.6,1228.2 L1554.6,1228.8 L1549.7,1229.4 L1544.8,1230.0 L1539.8,1230.6 L1534.9,1231.2 L1529.9,1231.7 L1525.0,1232.3 L1520.0,1232.8 L1515.1,1233.3 L1510.1,1233.8 L1505.1,1234.3 L1500.2,1234.8 L1495.2,1235.2 L1490.2,1235.7 L1485.3,1236.1 L1480.3,1236.5 L1475.3,1236.9 L1470.4,1237.3 L1465.4,1237.7 L1460.4,1238.1 L1455.4,1238.5 L1450.4,1238.8 L1445.5,1239.2 L1440.5,1239.5 L1435.5,1239.9 L1430.5,1240.2 L1425.5,1240.5 L1420.5,1240.8 L1415.5,1241.2 L1410.5,1241.5 L1405.5,1241.7 L1400.6,1242.0 L1395.6,1242.3 L1390.6,1242.6 L1385.6,1242.9 L1380.6,1243.2 L1375.6,1243.4 L1370.6,1243.7 L1365.6,1244.0 L1360.6,1244.2 L1355.6,1244.5 L1350.6,1244.7 L1345.6,1245.0 L1340.6,1245.3 L1335.6,1245.5 L1330.6,1245.8 L1325.6,1246.0 L1320.6,1246.3 L1315.6,1246.5 L1310.6,1246.7 L1305.6,1247.0 L1300.6,1247.2 L1295.6,1247.5 L1290.6,1247.7 L1285.7,1247.9 L1280.7,1248.2 L1275.7,1248.4 L1270.7,1248.6 L1265.7,1248.9 L1260.7,1249.1 L1255.7,1249.3 L1250.7,1249.6 L1245.7,1249.8 L1240.7,1250.0 L1235.7,1250.2 L1230.7,1250.5 L1225.7,1250.7 L1220.7,1250.9 L1215.7,1251.1 L1210.7,1251.3 L1205.7,1251.6 L1200.7,1251.8 L1195.7,1252.0 L1190.7,1252.2 L1185.7,1252.4 L1180.7,1252.6 L1175.7,1252.8 L1170.7,1253.1 L1165.7,1253.3 L1160.7,1253.5 L1155.7,1253.7 L1150.8,1253.9 L1145.8,1254.1 L1140.8,1254.3 L1135.8,1254.5 L1130.8,1254.7 L1125.8,1254.9 L1120.8,1255.2 L1115.8,1255.4 L1110.8,1255.6 L1105.8,1255.8 L1100.8,1256.0 L1095.8,1256.2 L1090.8,1256.4 L1085.8,1256.6 L1080.8,1256.8 L1075.8,1257.0 L1070.8,1257.2 L1065.8,1257.4 L1060.8,1257.7 L1055.8,1257.9 L1050.8,1258.1 L1045.9,1258.3 L1040.9,1258.5 L1035.9,1258.7 L1030.9,1258.9 L1025.9,1259.1 L1020.9,1259.3 L1015.9,1259.6 L1010.9,1259.8 L1005.9,1260.0 L1000.9,1260.2 L995.9,1260.4 L990.9,1260.6 L985.9,1260.8 L980.9,1261.1 L976.0,1261.3 L971.0,1261.5 L966.0,1261.7 L961.0,1261.9 L956.0,1262.2 L951.0,1262.4 L946.0,1262.6 L941.0,1262.8 L936.0,1263.1 L931.0,1263.3 L926.0,1263.5 L921.0,1263.7 L916.1,1264.0 L911.1,1264.2 L906.1,1264.4 L901.1,1264.7 L896.1,1264.9 L891.1,1265.2 L886.1,1265.4 L881.1,1265.6 L876.1,1265.9 L871.2,1266.1 L866.2,1266.4 L861.2,1266.6 L856.2,1266.9 L851.2,1267.1 L846.2,1267.4 L841.2,1267.6 L836.2,1267.9 L831.3,1268.2 L826.3,1268.4 L821.3,1268.7 L816.3,1268.9 L811.3,1269.2 L806.3,1269.5 L801.3,1269.8 L796.4,1270.0 L791.4,1270.3 L786.4,1270.6 L781.4,1270.9 L776.4,1271.2 L771.4,1271.4 L766.5,1271.7 L761.5,1272.0 L756.5,1272.3 L751.5,1272.6 L746.5,1272.9 L741.5,1273.2 L736.6,1273.5 L731.6,1273.8 L726.6,1274.1 L721.6,1274.5 L716.6,1274.8 L711.7,1275.1 L706.7,1275.4 L701.7,1275.7 L696.7,1276.1 L691.7,1276.4 L686.8,1276.7 L681.8,1277.1 L676.8,1277.4 L671.8,1277.7 L666.8,1278.1 L661.9,1278.4 L656.9,1278.8 L651.9,1279.2 L646.9,1279.5 L642.0,1279.9 L637.0,1280.2 L632.0,1280.6 L627.0,1281.0 L622.1,1281.4 L617.1,1281.7 L612.1,1282.1 L607.1,1282.5 L602.2,1282.9 L597.2,1283.3 L592.2,1283.7 L587.3,1284.1 L582.3,1284.5 L577.3,1284.9 L572.3,1285.3 L567.4,1285.8 L562.4,1286.2 L557.4,1286.6 L552.5,1287.0 L547.5,1287.5 L542.5,1287.9 L537.6,1288.4 L532.6,1288.8 L527.6,1289.3 L522.7,1289.7 L517.7,1290.2 L512.7,1290.6 L507.8,1291.1 L502.8,1291.6 L497.8,1292.1 L492.9,1292.5 L487.9,1293.0 L483.0,1293.5 L478.0,1294.0 L473.0,1294.5 L468.1,1295.0 L463.1,1295.5 L458.1,1296.1 L453.2,1296.6 L448.2,1297.1 L443.3,1297.6 L438.3,1298.2 L433.4,1298.7 L428.4,1299.3 L423.4,1299.8 L418.5,1300.4 L413.5,1300.9 L408.6,1301.5 L403.6,1302.1 L398.7,1302.6 L393.7,1303.2 L388.7,1303.8 L383.8,1304.4"/>
<path stroke="#ff8000" d="M384.7,1347.7 L388.8,1344.7 L393.0,1342.0 L397.3,1339.5 L401.7,1337.3 L406.3,1335.3 L410.9,1333.5 L415.5,1331.9 L420.3,1330.5 L425.1,1329.2 L430.0,1328.1 L434.9,1327.1 L439.8,1326.2 L444.7,1325.4 L449.7,1324.7 L454.7,1324.0 L459.7,1323.4 L464.7,1322.8 L469.7,1322.3 L474.7,1321.7 L479.6,1321.2 L484.6,1320.7 L489.6,1320.3 L494.6,1319.9 L499.5,1319.5 L504.5,1319.1 L509.5,1318.7 L514.5,1318.4 L519.4,1318.1 L524.4,1317.7 L529.4,1317.4 L534.4,1317.2 L539.3,1316.9 L544.3,1316.6 L549.3,1316.4 L554.3,1316.1 L559.2,1315.9 L564.2,1315.6 L569.2,1315.4 L574.2,1315.1 L579.2,1314.9 L584.2,1314.7 L589.2,1314.5 L594.1,1314.3 L599.1,1314.1 L604.1,1313.9 L609.1,1313.7 L614.1,1313.5 L619.1,1313.3 L624.1,1313.1 L629.1,1312.9 L634.1,1312.7 L639.1,1312.5 L644.1,1312.3 L649.1,1312.1 L654.1,1312.0 L659.0,1311.8 L664.0,1311.6 L669.0,1311.4 L674.0,1311.3 L679.0,1311.1 L684.0,1310.9 L689.0,1310.8 L694.0,1310.6 L699.0,1310.4 L704.0,1310.2 L709.0,1310.1 L714.0,1309.9 L719.0,1309.7 L724.0,1309.6 L729.0,1309.4 L734.0,1309.2 L738.9,1309.0 L743.9,1308.9 L748.9,1308.7 L753.9,1308.5 L758.9,1308.3 L763.9,1308.2 L768.9,1308.0 L773.9,1307.8 L778.9,1307.6 L783.9,1307.5 L788.9,1307.3 L793.8,1307.1 L798.8,1306.9 L803.8,1306.7 L808.8,1306.6 L813.8,1306.4 L818.8,1306.2 L823.8,1306.0 L828.8,1305.9 L833.8,1305.7 L838.7,1305.5 L843.7,1305.3 L848.7,1305.1 L853.7,1305.0 L858.7,1304.8 L863.7,1304.6 L868.7,1304.4 L873.7,1304.3 L878.7,1304.1 L883.6,1303.9 L888.6,1303.7 L893.6,1303.6 L898.6,1303.4 L903.6,1303.2 L908.6,1303.1 L913.6,1302.9 L918.6,1302.7 L923.6,1302.5 L928.6,1302.4 L933.6,1302.2 L938.6,1302.0 L943.6,1301.9 L948.5,1301.7 L953.5,1301.5 L958.5,1301.4 L963.5,1301.2 L968.5,1301.0 L973.5,1300.9 L978.5,1300.7 L983.5,1300.5 L988.5,1300.4 L993.5,1300.2 L998.5,1300.0 L1003.5,1299.9 L1008.5,1299.7 L1013.4,1299.5 L1018.4,1299.2 L1023.4,1299.0 L1028.4,1298.7 L1033.4,1298.4 L1038.3,1298.0 L1043.3,1297.6 L1048.3,1297.2 L1053.2,1296.7 L1058.2,1296.1 L1063.2,1295.5 L1068.1,1294.9 L1073.1,1294.3 L1078.0,1293.7 L1083.0,1293.0 L1087.9,1292.3 L1092.9,1291.6 L1097.8,1290.9 L1102.8,1290.2 L1107.7,1289.5 L1112.7,1288.9 L1117.6,1288.2 L1122.6,1287.5 L1127.5,1286.9 L1132.5,1286.2 L1137.5,1285.6 L1142.4,1285.0 L1147.4,1284.5 L1152.3,1283.9 L1157.3,1283.4 L1162.3,1282.9 L1167.2,1282.4 L1172.2,1281.9 L1177.2,1281.5 L1182.2,1281.0 L1187.1,1280.6 L1192.1,1280.2 L1197.1,1279.9 L1202.1,1279.5 L1207.0,1279.2 L1212.0,1278.9 L1217.0,1278.6 L1222.0,1278.4 L1227.0,1278.1 L1232.0,1277.9 L1237.0,1277.7 L1241.9,1277.6 L1246.9,1277.4 L1251.9,1277.3 L1256.9,1277.2 L1261.9,1277.1 L1266.9,1277.0 L1271.9,1276.9 L1276.9,1276.8 L1281.9,1276.7 L1286.9,1276.7 L1291.9,1276.6 L1296.9,1276.5 L1301.9,1276.4 L1306.9,1276.3 L1311.9,1276.1 L1316.9,1276.0 L1321.8,1275.8 L1326.8,1275.7 L1331.8,1275.4 L1336.8,1275.2 L1341.8,1274.9 L1346.8,1274.7 L1351.7,1274.3 L1356.7,1274.0 L1361.7,1273.5 L1366.6,1273.1 L1371.6,1272.6 L1376.6,1272.1 L1381.5,1271.5 L1386.5,1270.8 L1391.4,1270.1 L1396.4,1269.4 L1401.3,1268.5 L1406.3,1267.7 L1411.2,1266.7 L1416.1,1265.8 L1421.0,1264.7 L1425.9,1263.6 L1430.8,1262.5 L1435.6,1261.2 L1440.5,1260.0 L1445.3,1258.6 L1450.2,1257.3 L1455.0,1255.8 L1459.8,1254.3 L1464.5,1252.8 L1469.3,1251.1 L1474.0,1249.5 L1478.7,1247.7 L1483.4,1245.9 L1488.0,1244.1 L1492.7,1242.2 L1497.2,1240.2 L1501.8,1238.1 L1506.3,1236.0 L1510.8,1233.8 L1515.2,1231.6 L1519.6,1229.2 L1524.0,1226.8 L1528.3,1224.3 L1532.5,1221.8 L1536.7,1219.1 L1540.8,1216.4 L1544.9,1213.6 L1548.9,1210.7 L1552.9,1207.7 L1556.8,1204.7 L1560.6,1201.5 L1564.4,1198.3 L1568.1,1194.9 L1571.7,1191.5 L1575.2,1188.0 L1578.7,1184.5 L1582.2,1180.9 L1585.6,1177.2 L1588.9,1173.4 L1592.2,1169.6 L1595.5,1165.8 L1598.7,1161.9 L1601.8,1158.0 L1605.0,1154.0 L1608.1,1150.0 L1611.1,1146.0 L1614.1,1142.0 L1617.1,1137.9 L1620.1,1133.8 L1623.1,1129.8 L1626.0,1125.7 L1628.9,1121.6 L1631.9,1117.6 L1634.8,1113.5 L1637.7,1109.5 L1640.7,1105.5 L1643.6,1101.5 L1646.6,1097.5 L1649.6,1093.5 L1652.6,1089.6 L1655.6,1085.7 L1658.7,1081.8 L1661.7,1077.9 L1664.8,1074.1 L1667.9,1070.2 L1671.0,1066.4 L1674.1,1062.5 L1677.2,1058.7 L1680.3,1054.9 L1683.5,1051.0 L1686.6,1047.2 L1689.8,1043.3 L1692.9,1039.5 L1696.1,1035.6 L1699.2,1031.7 L1702.4,1027.8 L1705.5,1023.9 L1708.7,1020.0 L1711.9,1016.1 L1715.1,1012.2 L1718.4,1008.3 L1721.7,1004.5 L1725.0,1000.7 L1728.4,997.0 L1731.8,993.3 L1735.3,989.7 L1738.8,986.2 L1742.4,982.8 L1746.1,979.5 L1749.9,976.2 L1753.8,973.2 L1757.8,970.2 L1761.8,967.4 L1766.0,964.7 L1770.2,962.1 L1774.5,959.7 L1778.9,957.4 L1783.4,955.2 L1787.9,953.2 L1792.5,951.2 L1797.2,949.5 L1801.9,947.8 L1806.6,946.3 L1811.4,944.8 L1816.3,943.5 L1821.1,942.2 L1826.0,941.0 L1830.9,939.8 L1835.8,938.7 L1840.7,937.6 L1845.5,936.5 L1850.4,935.4 L1855.3,934.4 L1860.2,933.3 L1865.0,932.2 L1869.9,931.1 L1874.7,930.0 L1879.6,928.9 L1884.4,927.8 L1889.3,926.7 L1894.2,925.5 L1899.0,924.4 L1903.9,923.2 L1908.8,922.0 L1913.6,920.7 L1918.5,919.4 L1923.3,918.1 L1928.1,916.7 L1933.0,915.3 L1937.7,913.9 L1942.5,912.4 L1947.3,910.8 L1952.0,909.2 L1956.7,907.5 L1961.4,905.7 L1966.0,903.9 L1970.6,902.0 L1975.2,900.0 L1979.7,897.9 L1984.2,895.8 L1988.6,893.5 L1993.0,891.2 L1997.3,888.8 L2001.7,886.4 L2005.9,883.8 L2010.2,881.2 L2014.4,878.5 L2018.6,875.8 L2022.7,873.0 L2026.8,870.2 L2030.9,867.3 L2034.9,864.4 L2039.0,861.4 L2043.0,858.3 L2046.9,855.3 L2050.9,852.2 L2054.8,849.0 L2058.7,845.9 L2062.6,842.7 L2066.4,839.5 L2070.2,836.3 L2074.1,833.0 L2077.9,829.8 L2081.7,826.5 L2085.4,823.2 L2089.2,819.9 L2092.9,816.6 L2096.6,813.2 L2100.2,809.9 L2103.9,806.5 L2107.5,803.1 L2111.1,799.6 L2114.6,796.1 L2118.1,792.6 L2121.6,789.1 L2125.0,785.5 L2128.4,781.9 L2131.8,778.3 L2135.1,774.6 L2138.4,770.9 L2141.6,767.1 L2144.8,763.3 L2147.9,759.4 L2151.0,755.5 L2154.0,751.6 L2157.0,747.6 L2159.9,743.6 L2162.8,739.5 L2165.7,735.4 L2168.5,731.2 L2171.2,727.1 L2173.9,722.9 L2176.6,718.6 L2179.3,714.4 L2181.9,710.1 L2184.4,705.8 L2187.0,701.4 L2189.5,697.1 L2192.0,692.7 L2194.4,688.3 L2196.8,683.9 L2199.2,679.5 L2201.5,675.0 L2203.9,670.6 L2206.2,666.1 L2208.5,661.7 L2210.7,657.2 L2213.0,652.7 L2215.2,648.2 L2217.4,643.8 L2219.5,639.2 L2221.7,634.7 L2223.8,630.2 L2225.9,625.7 L2228.0,621.2 L2230.1,616.6 L2232.2,612.1 L2234.2,607.5 L2236.3,603.0 L2238.3,598.4 L2240.3,593.9 L2242.3,589.3 L2244.3,584.7 L2246.3,580.1 L2248.2,575.6 L2250.2,571.0 L2252.2,566.4 L2254.1,561.8 L2256.0,557.2 L2258.0,552.6 L2259.9,548.0 L2261.8,543.4 L2263.8,538.8 L2265.7,534.2 L2267.6,529.6 L2269.5,525.0 L2271.4,520.4 L2273.4,515.8 L2275.3,511.2 L2277.2,506.6 L2279.1,502.0 L2281.1,497.4 L2283.0,492.8 L2285.0,488.2 L2286.9,483.6 L2288.9,479.0 L2290.8,474.4 L2292.8,469.8 L2294.8,465.2 L2294.3,470.2 L2293.8,475.2 L2293.2,480.2 L2292.7,485.2 L2292.1,490.1 L2291.5,495.1 L2290.9,500.1 L2290.3,505.0 L2289.7,510.0 L2289.1,514.9 L2288.5,519.9 L2287.8,524.8 L2287.2,529.8 L2286.5,534.7 L2285.8,539.7 L2285.2,544.6 L2284.5,549.5 L2283.8,554.5 L2283.1,559.4 L2282.4,564.3 L2281.6,569.3 L2280.9,574.2 L2280.2,579.1 L2279.5,584.0 L2278.7,589.0 L2278.0,593.9 L2277.3,598.8 L2276.5,603.8 L2275.8,608.7 L2275.0,613.7 L2274.3,618.6 L2273.5,623.5 L2272.8,628.5 L2272.0,633.4 L2271.2,638.4 L2270.5,643.3 L2269.7,648.3 L2268.9,653.2 L2268.2,658.2 L2267.4,663.1 L2266.6,668.1 L2265.8,673.0 L2265.0,678.0 L2264.2,682.9 L2263.4,687.9 L2262.6,692.8 L2261.8,697.8 L2261.0,702.7 L2260.2,707.7 L2259.4,712.6 L2258.5,717.6 L2257.7,722.5 L2256.8,727.4 L2256.0,732.4 L2255.1,737.3 L2254.2,742.2 L2253.3,747.1 L2252.3,752.1 L2251.3,757.0 L2250.3,761.8 L2249.3,766.7 L2248.2,771.6 L2247.1,776.4 L2246.0,781.3 L2244.8,786.1 L2243.6,790.9 L2242.3,795.7 L2241.0,800.5 L2239.6,805.3 L2238.2,810.0 L2236.7,814.7 L2235.2,819.4 L2233.6,824.1 L2232.0,828.8 L2230.4,833.5 L2228.7,838.1 L2227.0,842.8 L2225.2,847.4 L2223.5,852.0 L2221.6,856.6 L2219.8,861.2 L2217.9,865.8 L2216.0,870.4 L2214.1,875.0 L2212.2,879.6 L2210.2,884.2 L2208.2,888.8 L2206.2,893.4 L2204.2,898.0 L2202.1,902.6 L2200.0,907.1 L2197.9,911.7 L2195.8,916.3 L2193.7,920.8 L2191.5,925.4 L2189.3,929.9 L2187.1,934.4 L2184.9,938.9 L2182.6,943.4 L2180.3,947.9 L2178.0,952.4 L2175.7,956.9 L2173.3,961.3 L2171.0,965.8 L2168.5,970.2 L2166.1,974.6 L2163.6,979.0 L2161.1,983.4 L2158.6,987.8 L2156.1,992.1 L2153.5,996.4 L2150.9,1000.7 L2148.3,1005.0 L2145.6,1009.3 L2142.9,1013.5 L2140.2,1017.7 L2137.4,1021.9 L2134.7,1026.1 L2131.9,1030.2 L2129.0,1034.3 L2126.1,1038.4 L2123.2,1042.5 L2120.3,1046.5 L2117.3,1050.6 L2114.3,1054.5 L2111.3,1058.5 L2108.2,1062.4 L2105.2,1066.3 L2102.0,1070.2 L2098.9,1074.0 L2095.7,1077.8 L2092.4,1081.6 L2089.2,1085.3 L2085.9,1089.0 L2082.5,1092.7 L2079.2,1096.3 L2075.8,1099.9 L2072.3,1103.4 L2068.8,1106.9 L2065.3,1110.4 L2061.8,1113.8 L2058.2,1117.2 L2054.6,1120.6 L2050.9,1123.9 L2047.2,1127.2 L2043.5,1130.4 L2039.7,1133.6 L2035.9,1136.8 L2032.1,1139.9 L2028.3,1143.0 L2024.4,1146.1 L2020.5,1149.1 L2016.5,1152.1 L2012.6,1155.1 L2008.6,1158.0 L2004.5,1161.0 L2000.5,1163.8 L1996.4,1166.7 L1992.3,1169.5 L1988.2,1172.3 L1984.0,1175.1 L1979.9,1177.8 L1975.7,1180.5 L1971.5,1183.2 L1967.2,1185.8 L1963.0,1188.5 L1958.7,1191.1 L1954.4,1193.7 L1950.1,1196.2 L1945.8,1198.8 L1941.4,1201.3 L1937.1,1203.8 L1932.7,1206.3 L1928.3,1208.7 L1923.9,1211.2 L1919.5,1213.6 L1915.0,1216.0 L1910.6,1218.4 L1906.2,1220.8 L1901.7,1223.1 L1897.2,1225.5 L1892.7,1227.8 L1888.3,1230.1 L1883.8,1232.4 L1879.3,1234.7 L1874.7,1237.0 L1870.2,1239.3 L1865.7,1241.5 L1861.2,1243.8 L1856.7,1246.0 L1852.1,1248.2 L1847.6,1250.4 L1843.0,1252.6 L1838.5,1254.8 L1833.9,1257.0 L1829.4,1259.1 L1824.8,1261.2 L1820.2,1263.4 L1815.7,1265.5 L1811.1,1267.5 L1806.5,1269.6 L1801.9,1271.6 L1797.3,1273.7 L1792.7,1275.7 L1788.1,1277.6 L1783.5,1279.6 L1778.8,1281.5 L1774.2,1283.4 L1769.6,1285.3 L1764.9,1287.2 L1760.3,1289.0 L1755.6,1290.8 L1750.9,1292.6 L1746.2,1294.3 L1741.6,1296.0 L1736.9,1297.7 L1732.2,1299.4 L1727.5,1301.0 L1722.8,1302.6 L1718.0,1304.2 L1713.3,1305.7 L1708.6,1307.2 L1703.8,1308.7 L1699.1,1310.2 L1694.3,1311.6 L1689.6,1313.0 L1684.8,1314.3 L1680.0,1315.6 L1675.2,1316.9 L1670.4,1318.2 L1665.6,1319.5 L1660.8,1320.7 L1656.0,1321.9 L1651.2,1323.0 L1646.4,1324.2 L1641.5,1325.3 L1636.7,1326.4 L1631.9,1327.5 L1627.0,1328.5 L1622.2,1329.5 L1617.3,1330.5 L1612.4,1331.5 L1607.6,1332.5 L1602.7,1333.4 L1597.8,1334.3 L1592.9,1335.2 L1588.0,1336.0 L1583.1,1336.9 L1578.2,1337.7 L1573.3,1338.5 L1568.4,1339.3 L1563.5,1340.1 L1558.6,1340.8 L1553.7,1341.6 L1548.7,1342.3 L1543.8,1343.0 L1538.9,1343.6 L1533.9,1344.3 L1529.0,1344.9 L1524.1,1345.6 L1519.1,1346.2 L1514.2,1346.8 L1509.2,1347.4 L1504.2,1347.9 L1499.3,1348.5 L1494.3,1349.0 L1489.4,1349.5 L1484.4,1350.1 L1479.4,1350.6 L1474.4,1351.0 L1469.5,1351.5 L1464.5,1352.0 L1459.5,1352.4 L1454.5,1352.9 L1449.5,1353.3 L1444.5,1353.7 L1439.6,1354.1 L1434.6,1354.5 L1429.6,1354.9 L1424.6,1355.3 L1419.6,1355.7 L1414.6,1356.1 L1409.6,1356.4 L1404.6,1356.8 L1399.6,1357.1 L1394.6,1357.5 L1389.6,1357.8 L1384.6,1358.1 L1379.6,1358.5 L1374.6,1358.8 L1369.6,1359.1 L1364.6,1359.4 L1359.6,1359.7 L1354.6,1360.0 L1349.6,1360.3 L1344.6,1360.6 L1339.6,1360.9 L1334.6,1361.2 L1329.6,1361.5 L1324.6,1361.8 L1319.6,1362.1 L1314.6,1362.4 L1309.6,1362.7 L1304.6,1362.9 L1299.6,1363.2 L1294.5,1363.5 L1289.5,1363.7 L1284.5,1364.0 L1279.5,1364.3 L1274.5,1364.5 L1269.5,1364.8 L1264.5,1365.0 L1259.5,1365.3 L1254.5,1365.6 L1249.5,1365.8 L1244.5,1366.0 L1239.5,1366.3 L1234.5,1366.5 L1229.5,1366.8 L1224.5,1367.0 L1219.5,1367.3 L1214.5,1367.5 L1209.5,1367.7 L1204.5,1368.0 L1199.5,1368.2 L1194.5,1368.4 L1189.5,1368.6 L1184.5,1368.9 L1179.5,1369.1 L1174.5,1369.3 L1169.5,1369.5 L1164.5,1369.8 L1159.5,1370.0 L1154.5,1370.2 L1149.5,1370.4 L1144.5,1370.6 L1139.5,1370.8 L1134.5,1371.1 L1129.5,1371.3 L1124.5,1371.5 L1119.5,1371.7 L1114.5,1371.9 L1109.5,1372.1 L1104.5,1372.3 L1099.5,1372.6 L1094.5,1372.8 L1089.5,1373.0 L1084.5,1373.2 L1079.5,1373.4 L1074.5,1373.6 L1069.5,1373.8 L1064.5,1374.0 L1059.5,1374.3 L1054.5,1374.5 L1049.5,1374.7 L1044.5,1374.9 L1039.5,1375.1 L1034.5,1375.3 L1029.5,1375.5 L1024.5,1375.8 L1019.5,1376.0 L1014.5,1376.2 L1009.5,1376.4 L1004.5,1376.6 L999.5,1376.8 L994.5,1377.1 L989.5,1377.3 L984.5,1377.5 L979.5,1377.7 L974.5,1378.0 L969.6,1378.2 L964.6,1378.4 L959.6,1378.6 L954.6,1378.9 L949.6,1379.1 L944.6,1379.3 L939.6,1379.6 L934.6,1379.8 L929.6,1380.0 L924.6,1380.3 L919.6,1380.5 L914.6,1380.8 L909.7,1381.0 L904.7,1381.3 L899.7,1381.5 L894.7,1381.8 L889.7,1382.0 L884.7,1382.3 L879.7,1382.5 L874.7,1382.8 L869.8,1383.1 L864.8,1383.3 L859.8,1383.6 L854.8,1383.9 L849.8,1384.2 L844.8,1384.4 L839.8,1384.7 L834.9,1385.0 L829.9,1385.3 L824.9,1385.6 L819.9,1385.9 L814.9,1386.2 L810.0,1386.5 L805.0,1386.8 L800.0,1387.1 L795.0,1387.4 L790.0,1387.7 L785.1,1388.0 L780.1,1388.3 L775.1,1388.7 L770.1,1389.0 L765.1,1389.3 L760.2,1389.7 L755.2,1390.0 L750.2,1390.3 L745.2,1390.7 L740.3,1391.0 L735.3,1391.4 L730.3,1391.8 L725.3,1392.1 L720.4,1392.5 L715.4,1392.9 L710.4,1393.2 L705.5,1393.6 L700.5,1394.0 L695.5,1394.4 L690.6,1394.8 L685.6,1395.2 L680.6,1395.6 L675.6,1396.0 L670.7,1396.4 L665.7,1396.9 L660.7,1397.3 L655.8,1397.7 L650.8,1398.1 L645.9,1398.6 L640.9,1399.0 L635.9,1399.5 L631.0,1399.9 L626.0,1400.4 L621.0,1400.9 L616.1,1401.4 L611.1,1401.8 L606.2,1402.3 L601.2,1402.8 L596.3,1403.3 L591.3,1403.8 L586.3,1404.3 L581.4,1404.8 L576.4,1405.4 L571.5,1405.9 L566.5,1406.4 L561.6,1407.0 L556.6,1407.5 L551.7,1408.1 L546.7,1408.6 L541.8,1409.2 L536.8,1409.8 L531.9,1410.4 L526.9,1410.9 L522.0,1411.5 L517.0,1412.1 L512.1,1412.7 L507.1,1413.4 L502.2,1414.0 L497.3,1414.6 L492.3,1415.2 L487.4,1415.9 L482.4,1416.5 L477.5,1417.2 L472.6,1417.9 L467.6,1418.5 L462.7,1419.2 L457.7,1419.9 L452.8,1420.6 L447.9,1421.3 L442.9,1422.0 L438.0,1422.7 L433.1,1423.5 L428.1,1424.2 L423.2,1424.9 L418.3,1425.7 L413.3,1426.5 L408.4,1427.2 L403.5,1428.0 L398.6,1428.8 L393.6,1429.6 L388.7,1430.4 L383.8,1431.2"/>
<path stroke="#35ac6b" d="M384.7,1480.0 L388.8,1477.2 L393.1,1474.6 L397.5,1472.3 L402.0,1470.3 L406.7,1468.5 L411.3,1466.8 L416.1,1465.4 L420.9,1464.1 L425.8,1463.0 L430.7,1462.0 L435.6,1461.1 L440.6,1460.3 L445.5,1459.5 L450.5,1458.9 L455.5,1458.3 L460.4,1457.7 L465.4,1457.2 L470.4,1456.7 L475.3,1456.3 L480.3,1455.9 L485.3,1455.6 L490.3,1455.3 L495.2,1455.0 L500.2,1454.7 L505.2,1454.5 L510.2,1454.3 L515.2,1454.0 L520.2,1453.8 L525.1,1453.7 L530.1,1453.5 L535.1,1453.3 L540.1,1453.1 L545.1,1452.9 L550.1,1452.7 L555.0,1452.5 L560.0,1452.4 L565.0,1452.2 L570.0,1452.0 L575.0,1451.8 L580.0,1451.7 L585.0,1451.5 L589.9,1451.3 L594.9,1451.1 L599.9,1451.0 L604.9,1450.8 L609.9,1450.6 L614.9,1450.5 L619.9,1450.3 L624.9,1450.1 L629.8,1450.0 L634.8,1449.8 L639.8,1449.7 L644.8,1449.5 L649.8,1449.3 L654.8,1449.2 L659.8,1449.0 L664.8,1448.8 L669.8,1448.7 L674.8,1448.5 L679.7,1448.4 L684.7,1448.2 L689.7,1448.0 L694.7,1447.9 L699.7,1447.7 L704.7,1447.5 L709.7,1447.4 L714.7,1447.2 L719.7,1447.0 L724.6,1446.9 L729.6,1446.7 L734.6,1446.5 L739.6,1446.4 L744.6,1446.2 L749.6,1446.0 L754.6,1445.8 L759.6,1445.7 L764.6,1445.5 L769.5,1445.3 L774.5,1445.1 L779.5,1444.9 L784.5,1444.7 L789.5,1444.6 L794.5,1444.4 L799.5,1444.2 L804.5,1444.0 L809.4,1443.8 L814.4,1443.6 L819.4,1443.4 L824.4,1443.2 L829.4,1443.0 L834.4,1442.8 L839.4,1442.6 L844.4,1442.4 L849.3,1442.2 L854.3,1442.0 L859.3,1441.7 L864.3,1441.5 L869.3,1441.3 L874.3,1441.1 L879.3,1440.9 L884.2,1440.6 L889.2,1440.4 L894.2,1440.2 L899.2,1439.9 L904.2,1439.7 L909.2,1439.4 L914.1,1439.2 L919.1,1439.0 L924.1,1438.7 L929.1,1438.4 L934.1,1438.2 L939.1,1437.9 L944.0,1437.7 L949.0,1437.4 L954.0,1437.1 L959.0,1436.8 L964.0,1436.6 L968.9,1436.3 L973.9,1436.0 L978.9,1435.7 L983.9,1435.4 L988.9,1435.1 L993.8,1434.8 L998.8,1434.5 L1003.8,1434.2 L1008.8,1433.9 L1013.8,1433.6 L1018.7,1433.2 L1023.7,1432.9 L1028.7,1432.6 L1033.7,1432.2 L1038.6,1431.9 L1043.6,1431.5 L1048.6,1431.1 L1053.5,1430.7 L1058.5,1430.3 L1063.5,1429.8 L1068.4,1429.3 L1073.4,1428.7 L1078.3,1428.1 L1083.3,1427.5 L1088.2,1426.8 L1093.2,1426.0 L1098.1,1425.3 L1103.0,1424.5 L1108.0,1423.6 L1112.9,1422.8 L1117.8,1422.0 L1122.7,1421.1 L1127.7,1420.3 L1132.6,1419.5 L1137.5,1418.6 L1142.4,1417.8 L1147.3,1416.9 L1152.3,1416.1 L1157.2,1415.3 L1162.1,1414.4 L1167.0,1413.6 L1172.0,1412.8 L1176.9,1412.0 L1181.8,1411.2 L1186.7,1410.4 L1191.7,1409.7 L1196.6,1408.9 L1201.6,1408.3 L1206.5,1407.6 L1211.4,1407.0 L1216.4,1406.4 L1221.4,1405.8 L1226.3,1405.3 L1231.3,1404.9 L1236.3,1404.5 L1241.2,1404.1 L1246.2,1403.8 L1251.2,1403.5 L1256.2,1403.3 L1261.2,1403.1 L1266.2,1402.9 L1271.2,1402.7 L1276.1,1402.6 L1281.1,1402.4 L1286.1,1402.3 L1291.1,1402.2 L1296.1,1402.1 L1301.1,1402.0 L1306.1,1401.9 L1311.1,1401.7 L1316.1,1401.6 L1321.1,1401.4 L1326.0,1401.2 L1331.0,1400.9 L1336.0,1400.7 L1341.0,1400.3 L1345.9,1400.0 L1350.9,1399.6 L1355.9,1399.1 L1360.8,1398.6 L1365.8,1398.1 L1370.7,1397.6 L1375.7,1397.0 L1380.6,1396.3 L1385.5,1395.7 L1390.5,1395.0 L1395.4,1394.3 L1400.4,1393.6 L1405.3,1392.9 L1410.2,1392.1 L1415.2,1391.3 L1420.1,1390.5 L1425.0,1389.7 L1430.0,1388.9 L1434.9,1388.1 L1439.8,1387.2 L1444.8,1386.3 L1449.7,1385.4 L1454.6,1384.5 L1459.5,1383.6 L1464.4,1382.6 L1469.3,1381.6 L1474.2,1380.6 L1479.1,1379.5 L1484.0,1378.4 L1488.9,1377.3 L1493.7,1376.1 L1498.6,1374.9 L1503.4,1373.7 L1508.2,1372.4 L1513.0,1371.1 L1517.8,1369.7 L1522.6,1368.3 L1527.4,1366.9 L1532.1,1365.4 L1536.8,1363.8 L1541.5,1362.2 L1546.2,1360.6 L1550.9,1358.8 L1555.5,1357.1 L1560.2,1355.3 L1564.8,1353.4 L1569.3,1351.4 L1573.9,1349.4 L1578.4,1347.4 L1582.9,1345.2 L1587.4,1343.0 L1591.9,1340.7 L1596.3,1338.4 L1600.7,1336.0 L1605.0,1333.5 L1609.4,1331.0 L1613.7,1328.4 L1617.9,1325.7 L1622.1,1323.0 L1626.3,1320.2 L1630.5,1317.3 L1634.5,1314.4 L1638.6,1311.5 L1642.6,1308.4 L1646.6,1305.4 L1650.5,1302.2 L1654.3,1299.0 L1658.1,1295.8 L1661.9,1292.5 L1665.5,1289.1 L1669.2,1285.7 L1672.8,1282.3 L1676.3,1278.8 L1679.7,1275.2 L1683.1,1271.6 L1686.5,1268.0 L1689.8,1264.3 L1693.1,1260.6 L1696.3,1256.9 L1699.5,1253.1 L1702.7,1249.3 L1705.8,1245.5 L1709.0,1241.6 L1712.1,1237.8 L1715.2,1233.9 L1718.3,1230.0 L1721.4,1226.1 L1724.4,1222.2 L1727.5,1218.3 L1730.6,1214.4 L1733.7,1210.5 L1736.9,1206.5 L1740.0,1202.6 L1743.1,1198.7 L1746.3,1194.8 L1749.5,1190.9 L1752.6,1187.0 L1755.8,1183.1 L1759.1,1179.3 L1762.3,1175.4 L1765.5,1171.5 L1768.8,1167.7 L1772.1,1163.9 L1775.4,1160.1 L1778.7,1156.3 L1782.0,1152.6 L1785.4,1148.8 L1788.8,1145.1 L1792.2,1141.4 L1795.6,1137.8 L1799.1,1134.2 L1802.6,1130.6 L1806.1,1127.0 L1809.6,1123.5 L1813.2,1120.0 L1816.8,1116.5 L1820.4,1113.1 L1824.1,1109.7 L1827.7,1106.3 L1831.5,1103.0 L1835.2,1099.7 L1839.0,1096.5 L1842.8,1093.3 L1846.6,1090.2 L1850.5,1087.1 L1854.4,1084.1 L1858.4,1081.1 L1862.4,1078.2 L1866.4,1075.3 L1870.5,1072.5 L1874.6,1069.8 L1878.8,1067.0 L1882.9,1064.4 L1887.2,1061.8 L1891.4,1059.2 L1895.7,1056.7 L1900.0,1054.2 L1904.3,1051.7 L1908.6,1049.3 L1913.0,1046.9 L1917.4,1044.5 L1921.8,1042.2 L1926.2,1039.9 L1930.7,1037.6 L1935.1,1035.3 L1939.6,1033.0 L1944.0,1030.7 L1948.5,1028.5 L1953.0,1026.2 L1957.4,1023.9 L1961.9,1021.7 L1966.4,1019.4 L1970.9,1017.1 L1975.3,1014.8 L1979.8,1012.5 L1984.2,1010.2 L1988.7,1007.9 L1993.1,1005.5 L1997.5,1003.1 L2001.9,1000.7 L2006.3,998.3 L2010.6,995.8 L2014.9,993.3 L2019.2,990.8 L2023.5,988.2 L2027.7,985.5 L2032.0,982.9 L2036.2,980.1 L2040.3,977.4 L2044.4,974.6 L2048.5,971.7 L2052.6,968.9 L2056.7,965.9 L2060.7,963.0 L2064.6,960.0 L2068.6,956.9 L2072.5,953.8 L2076.4,950.7 L2080.2,947.5 L2084.1,944.3 L2087.8,941.1 L2091.6,937.8 L2095.3,934.5 L2099.0,931.2 L2102.6,927.8 L2106.2,924.3 L2109.8,920.9 L2113.4,917.4 L2116.9,913.8 L2120.3,910.3 L2123.7,906.7 L2127.1,903.0 L2130.5,899.3 L2133.8,895.6 L2137.1,891.9 L2140.3,888.1 L2143.5,884.3 L2146.7,880.4 L2149.8,876.5 L2152.8,872.6 L2155.9,868.7 L2158.9,864.7 L2161.8,860.7 L2164.7,856.7 L2167.6,852.6 L2170.5,848.5 L2173.3,844.4 L2176.0,840.2 L2178.8,836.0 L2181.5,831.8 L2184.1,827.6 L2186.8,823.4 L2189.4,819.1 L2191.9,814.8 L2194.4,810.5 L2196.9,806.2 L2199.4,801.8 L2201.8,797.4 L2204.2,793.0 L2206.6,788.6 L2209.0,784.2 L2211.3,779.8 L2213.6,775.3 L2215.8,770.9 L2218.0,766.4 L2220.3,761.9 L2222.4,757.4 L2224.6,752.9 L2226.7,748.3 L2228.8,743.8 L2230.9,739.3 L2232.9,734.7 L2234.9,730.1 L2236.9,725.6 L2238.9,721.0 L2240.9,716.4 L2242.8,711.8 L2244.7,707.3 L2246.6,702.7 L2248.5,698.1 L2250.3,693.4 L2252.1,688.8 L2253.9,684.2 L2255.7,679.6 L2257.4,674.9 L2259.2,670.3 L2260.9,665.6 L2262.6,661.0 L2264.3,656.3 L2265.9,651.6 L2267.5,646.9 L2269.2,642.2 L2270.8,637.5 L2272.3,632.8 L2273.9,628.1 L2275.4,623.4 L2276.9,618.6 L2278.4,613.9 L2279.9,609.1 L2281.4,604.3 L2282.9,599.6 L2284.3,594.8 L2285.8,590.0 L2287.4,585.3 L2289.0,580.5 L2290.6,575.8 L2292.4,571.1 L2294.2,566.5 L2296.2,561.9 L2295.8,566.9 L2295.3,571.8 L2294.9,576.8 L2294.4,581.8 L2294.0,586.8 L2293.5,591.7 L2293.0,596.7 L2292.6,601.7 L2292.1,606.7 L2291.6,611.6 L2291.1,616.6 L2290.6,621.6 L2290.1,626.5 L2289.6,631.5 L2289.0,636.5 L2288.5,641.5 L2288.0,646.4 L2287.4,651.4 L2286.9,656.4 L2286.3,661.3 L2285.7,666.3 L2285.1,671.3 L2284.5,676.2 L2283.9,681.2 L2283.3,686.2 L2282.7,691.1 L2282.1,696.1 L2281.4,701.0 L2280.8,706.0 L2280.1,710.9 L2279.4,715.9 L2278.7,720.9 L2278.0,725.8 L2277.3,730.7 L2276.6,735.7 L2275.9,740.6 L2275.1,745.6 L2274.3,750.5 L2273.6,755.4 L2272.8,760.4 L2272.0,765.3 L2271.1,770.2 L2270.3,775.2 L2269.5,780.1 L2268.6,785.0 L2267.7,789.9 L2266.8,794.8 L2265.9,799.7 L2265.0,804.6 L2264.1,809.5 L2263.1,814.4 L2262.1,819.3 L2261.1,824.2 L2260.1,829.1 L2259.1,834.0 L2258.1,838.9 L2257.0,843.7 L2255.9,848.6 L2254.9,853.5 L2253.7,858.3 L2252.6,863.2 L2251.5,868.1 L2250.3,872.9 L2249.1,877.7 L2247.9,882.6 L2246.7,887.4 L2245.4,892.2 L2244.2,897.1 L2242.9,901.9 L2241.6,906.7 L2240.3,911.5 L2238.9,916.3 L2237.5,921.1 L2236.2,925.9 L2234.7,930.7 L2233.3,935.5 L2231.9,940.2 L2230.4,945.0 L2228.9,949.8 L2227.4,954.5 L2225.8,959.3 L2224.3,964.0 L2222.7,968.8 L2221.0,973.5 L2219.4,978.2 L2217.7,982.9 L2216.1,987.7 L2214.3,992.4 L2212.6,997.1 L2210.9,1001.7 L2209.1,1006.4 L2207.3,1011.1 L2205.4,1015.8 L2203.6,1020.4 L2201.7,1025.0 L2199.8,1029.7 L2197.9,1034.3 L2195.9,1038.9 L2193.9,1043.5 L2191.9,1048.1 L2189.9,1052.7 L2187.9,1057.3 L2185.8,1061.8 L2183.7,1066.4 L2181.6,1070.9 L2179.4,1075.4 L2177.2,1080.0 L2175.0,1084.5 L2172.8,1089.0 L2170.6,1093.4 L2168.3,1097.9 L2166.0,1102.3 L2163.7,1106.8 L2161.3,1111.2 L2158.9,1115.6 L2156.5,1120.0 L2154.1,1124.4 L2151.6,1128.7 L2149.2,1133.1 L2146.7,1137.4 L2144.1,1141.7 L2141.6,1146.0 L2139.0,1150.3 L2136.4,1154.6 L2133.7,1158.9 L2131.1,1163.1 L2128.4,1167.3 L2125.7,1171.5 L2122.9,1175.7 L2120.1,1179.9 L2117.4,1184.0 L2114.5,1188.1 L2111.7,1192.2 L2108.8,1196.3 L2105.9,1200.4 L2103.0,1204.4 L2100.0,1208.5 L2097.0,1212.5 L2094.0,1216.4 L2090.9,1220.4 L2087.8,1224.3 L2084.7,1228.2 L2081.5,1232.0 L2078.3,1235.9 L2075.1,1239.6 L2071.9,1243.4 L2068.6,1247.1 L2065.2,1250.8 L2061.9,1254.5 L2058.5,1258.1 L2055.0,1261.7 L2051.5,1265.2 L2048.0,1268.7 L2044.5,1272.1 L2040.9,1275.6 L2037.2,1278.9 L2033.6,1282.3 L2029.8,1285.5 L2026.1,1288.8 L2022.3,1292.0 L2018.5,1295.1 L2014.6,1298.2 L2010.7,1301.3 L2006.7,1304.3 L2002.8,1307.3 L1998.8,1310.3 L1994.7,1313.2 L1990.7,1316.1 L1986.6,1318.9 L1982.5,1321.7 L1978.3,1324.5 L1974.1,1327.3 L1969.9,1330.0 L1965.7,1332.7 L1961.5,1335.4 L1957.2,1338.0 L1953.0,1340.6 L1948.7,1343.2 L1944.4,1345.8 L1940.1,1348.4 L1935.7,1350.9 L1931.4,1353.4 L1927.0,1355.9 L1922.7,1358.4 L1918.3,1360.9 L1913.9,1363.3 L1909.5,1365.8 L1905.1,1368.2 L1900.7,1370.6 L1896.3,1373.0 L1891.9,1375.3 L1887.4,1377.7 L1883.0,1380.0 L1878.5,1382.3 L1874.0,1384.6 L1869.6,1386.8 L1865.1,1389.0 L1860.6,1391.2 L1856.1,1393.4 L1851.5,1395.6 L1847.0,1397.7 L1842.5,1399.8 L1837.9,1401.8 L1833.3,1403.9 L1828.7,1405.9 L1824.1,1407.9 L1819.5,1409.8 L1814.9,1411.7 L1810.3,1413.6 L1805.6,1415.4 L1801.0,1417.2 L1796.3,1419.0 L1791.6,1420.8 L1786.9,1422.5 L1782.2,1424.2 L1777.5,1425.8 L1772.8,1427.4 L1768.0,1429.0 L1763.3,1430.6 L1758.5,1432.1 L1753.8,1433.6 L1749.0,1435.1 L1744.2,1436.5 L1739.4,1437.9 L1734.6,1439.3 L1729.8,1440.7 L1725.0,1442.0 L1720.2,1443.3 L1715.4,1444.6 L1710.6,1445.9 L1705.7,1447.1 L1700.9,1448.3 L1696.0,1449.5 L1691.2,1450.7 L1686.3,1451.9 L1681.5,1453.0 L1676.6,1454.1 L1671.8,1455.2 L1666.9,1456.2 L1662.0,1457.3 L1657.1,1458.3 L1652.3,1459.3 L1647.4,1460.3 L1642.5,1461.2 L1637.6,1462.2 L1632.7,1463.1 L1627.8,1464.0 L1622.9,1464.9 L1618.0,1465.7 L1613.1,1466.6 L1608.2,1467.4 L1603.3,1468.2 L1598.4,1469.0 L1593.4,1469.8 L1588.5,1470.5 L1583.6,1471.3 L1578.7,1472.0 L1573.7,1472.7 L1568.8,1473.4 L1563.9,1474.1 L1558.9,1474.7 L1554.0,1475.4 L1549.0,1476.0 L1544.1,1476.7 L1539.1,1477.3 L1534.2,1477.9 L1529.2,1478.4 L1524.3,1479.0 L1519.3,1479.6 L1514.4,1480.1 L1509.4,1480.6 L1504.4,1481.2 L1499.5,1481.7 L1494.5,1482.2 L1489.5,1482.7 L1484.6,1483.1 L1479.6,1483.6 L1474.6,1484.1 L1469.6,1484.5 L1464.7,1484.9 L1459.7,1485.4 L1454.7,1485.8 L1449.7,1486.2 L1444.7,1486.6 L1439.8,1487.0 L1434.8,1487.4 L1429.8,1487.8 L1424.8,1488.2 L1419.8,1488.5 L1414.8,1488.9 L1409.8,1489.2 L1404.8,1489.6 L1399.8,1489.9 L1394.9,1490.3 L1389.9,1490.6 L1384.9,1490.9 L1379.9,1491.3 L1374.9,1491.6 L1369.9,1491.9 L1364.9,1492.2 L1359.9,1492.5 L1354.9,1492.9 L1349.9,1493.2 L1344.9,1493.5 L1339.9,1493.8 L1334.9,1494.1 L1329.9,1494.4 L1324.9,1494.6 L1319.9,1494.9 L1314.9,1495.2 L1310.0,1495.5 L1305.0,1495.8 L1300.0,1496.1 L1295.0,1496.4 L1290.0,1496.6 L1285.0,1496.9 L1280.0,1497.2 L1275.0,1497.4 L1270.0,1497.7 L1265.0,1498.0 L1260.0,1498.2 L1255.0,1498.5 L1250.0,1498.8 L1245.0,1499.0 L1240.0,1499.3 L1235.0,1499.5 L1230.0,1499.8 L1225.0,1500.0 L1220.0,1500.3 L1215.0,1500.5 L1210.0,1500.8 L1205.0,1501.0 L1200.0,1501.3 L1195.0,1501.5 L1190.0,1501.8 L1185.0,1502.0 L1180.0,1502.2 L1175.1,1502.5 L1170.1,1502.7 L1165.1,1503.0 L1160.1,1503.2 L1155.1,1503.4 L1150.1,1503.7 L1145.1,1503.9 L1140.1,1504.1 L1135.1,1504.4 L1130.1,1504.6 L1125.1,1504.8 L1120.1,1505.1 L1115.1,1505.3 L1110.1,1505.5 L1105.1,1505.7 L1100.1,1506.0 L1095.1,1506.2 L1090.1,1506.4 L1085.1,1506.7 L1080.1,1506.9 L1075.1,1507.1 L1070.1,1507.3 L1065.1,1507.6 L1060.1,1507.8 L1055.1,1508.0 L1050.1,1508.3 L1045.2,1508.5 L1040.2,1508.7 L1035.2,1509.0 L1030.2,1509.2 L1025.2,1509.4 L1020.2,1509.7 L1015.2,1509.9 L1010.2,1510.1 L1005.2,1510.4 L1000.2,1510.6 L995.2,1510.8 L990.2,1511.1 L985.2,1511.3 L980.2,1511.5 L975.2,1511.8 L970.2,1512.0 L965.3,1512.3 L960.3,1512.5 L955.3,1512.8 L950.3,1513.0 L945.3,1513.3 L940.3,1513.5 L935.3,1513.8 L930.3,1514.0 L925.3,1514.3 L920.3,1514.5 L915.3,1514.8 L910.4,1515.0 L905.4,1515.3 L900.4,1515.6 L895.4,1515.8 L890.4,1516.1 L885.4,1516.4 L880.4,1516.6 L875.4,1516.9 L870.4,1517.2 L865.5,1517.5 L860.5,1517.7 L855.5,1518.0 L850.5,1518.3 L845.5,1518.6 L840.5,1518.9 L835.5,1519.2 L830.6,1519.5 L825.6,1519.8 L820.6,1520.1 L815.6,1520.4 L810.6,1520.7 L805.6,1521.0 L800.7,1521.3 L795.7,1521.6 L790.7,1521.9 L785.7,1522.3 L780.7,1522.6 L775.7,1522.9 L770.8,1523.2 L765.8,1523.6 L760.8,1523.9 L755.8,1524.3 L750.8,1524.6 L745.9,1524.9 L740.9,1525.3 L735.9,1525.7 L730.9,1526.0 L726.0,1526.4 L721.0,1526.7 L716.0,1527.1 L711.0,1527.5 L706.1,1527.9 L701.1,1528.2 L696.1,1528.6 L691.1,1529.0 L686.2,1529.4 L681.2,1529.8 L676.2,1530.2 L671.2,1530.6 L666.3,1531.0 L661.3,1531.5 L656.3,1531.9 L651.4,1532.3 L646.4,1532.7 L641.4,1533.2 L636.4,1533.6 L631.5,1534.1 L626.5,1534.5 L621.5,1535.0 L616.6,1535.4 L611.6,1535.9 L606.6,1536.3 L601.7,1536.8 L596.7,1537.3 L591.7,1537.8 L586.8,1538.3 L581.8,1538.8 L576.9,1539.3 L571.9,1539.8 L566.9,1540.3 L562.0,1540.8 L557.0,1541.3 L552.1,1541.8 L547.1,1542.4 L542.1,1542.9 L537.2,1543.5 L532.2,1544.0 L527.3,1544.6 L522.3,1545.1 L517.3,1545.7 L512.4,1546.3 L507.4,1546.9 L502.5,1547.4 L497.5,1548.0 L492.6,1548.6 L487.6,1549.2 L482.7,1549.9 L477.7,1550.5 L472.8,1551.1 L467.8,1551.7 L462.9,1552.4 L457.9,1553.0 L453.0,1553.7 L448.0,1554.3 L443.1,1555.0 L438.1,1555.6 L433.2,1556.3 L428.3,1557.0 L423.3,1557.7 L418.4,1558.4 L413.4,1559.1 L408.5,1559.8 L403.5,1560.5 L398.6,1561.3 L393.7,1562.0 L388.7,1562.7 L383.8,1563.5"/>
<path stroke="#af77dd" d="M384.7,1596.8 L388.4,1593.5 L392.5,1590.7 L396.8,1588.4 L401.4,1586.4 L406.0,1584.7 L410.8,1583.1 L415.6,1581.8 L420.4,1580.6 L425.3,1579.5 L430.2,1578.6 L435.2,1577.8 L440.2,1577.0 L445.2,1576.4 L450.2,1575.7 L455.1,1575.2 L460.1,1574.6 L465.1,1574.2 L470.1,1573.7 L475.1,1573.3 L480.0,1572.9 L485.0,1572.6 L490.0,1572.3 L495.0,1572.0 L500.0,1571.7 L505.0,1571.5 L509.9,1571.2 L514.9,1571.0 L519.9,1570.8 L524.9,1570.6 L529.9,1570.4 L534.9,1570.2 L539.9,1570.0 L544.9,1569.8 L549.8,1569.7 L554.8,1569.5 L559.8,1569.3 L564.8,1569.1 L569.8,1569.0 L574.8,1568.8 L579.8,1568.7 L584.8,1568.5 L589.8,1568.3 L594.8,1568.2 L599.8,1568.0 L604.8,1567.9 L609.8,1567.7 L614.8,1567.6 L619.8,1567.4 L624.8,1567.3 L629.8,1567.2 L634.8,1567.0 L639.8,1566.9 L644.8,1566.7 L649.8,1566.6 L654.8,1566.4 L659.8,1566.3 L664.8,1566.1 L669.8,1566.0 L674.8,1565.8 L679.8,1565.7 L684.8,1565.5 L689.8,1565.4 L694.8,1565.2 L699.8,1565.0 L704.8,1564.9 L709.8,1564.7 L714.8,1564.6 L719.8,1564.4 L724.8,1564.2 L729.8,1564.1 L734.8,1563.9 L739.8,1563.7 L744.8,1563.6 L749.8,1563.4 L754.7,1563.2 L759.7,1563.1 L764.7,1562.9 L769.7,1562.7 L774.7,1562.5 L779.7,1562.4 L784.7,1562.2 L789.7,1562.0 L794.7,1561.8 L799.7,1561.6 L804.7,1561.4 L809.7,1561.3 L814.7,1561.1 L819.7,1560.9 L824.7,1560.7 L829.7,1560.5 L834.7,1560.3 L839.7,1560.1 L844.7,1559.9 L849.6,1559.7 L854.6,1559.5 L859.6,1559.2 L864.6,1559.0 L869.6,1558.8 L874.6,1558.6 L879.6,1558.4 L884.6,1558.2 L889.6,1557.9 L894.6,1557.7 L899.6,1557.5 L904.6,1557.2 L909.6,1557.0 L914.6,1556.8 L919.5,1556.5 L924.5,1556.3 L929.5,1556.0 L934.5,1555.8 L939.5,1555.5 L944.5,1555.3 L949.5,1555.0 L954.5,1554.7 L959.5,1554.5 L964.5,1554.2 L969.5,1553.9 L974.5,1553.6 L979.4,1553.3 L984.4,1553.0 L989.4,1552.7 L994.4,1552.4 L999.4,1552.0 L1004.4,1551.7 L1009.4,1551.3 L1014.3,1550.9 L1019.3,1550.5 L1024.3,1550.1 L1029.3,1549.6 L1034.3,1549.1 L1039.2,1548.6 L1044.2,1548.1 L1049.2,1547.5 L1054.1,1546.9 L1059.1,1546.3 L1064.1,1545.6 L1069.0,1545.0 L1074.0,1544.3 L1078.9,1543.6 L1083.9,1542.8 L1088.8,1542.0 L1093.8,1541.3 L1098.7,1540.4 L1103.6,1539.6 L1108.5,1538.7 L1113.5,1537.9 L1118.4,1536.9 L1123.3,1536.0 L1128.2,1535.1 L1133.1,1534.2 L1138.0,1533.2 L1143.0,1532.2 L1147.9,1531.3 L1152.8,1530.3 L1157.7,1529.4 L1162.6,1528.5 L1167.5,1527.5 L1172.4,1526.6 L1177.3,1525.8 L1182.3,1524.9 L1187.2,1524.1 L1192.1,1523.2 L1197.0,1522.5 L1202.0,1521.7 L1206.9,1521.0 L1211.9,1520.4 L1216.8,1519.7 L1221.8,1519.2 L1226.8,1518.6 L1231.7,1518.1 L1236.7,1517.6 L1241.7,1517.2 L1246.7,1516.7 L1251.7,1516.3 L1256.7,1515.9 L1261.7,1515.6 L1266.6,1515.2 L1271.6,1514.8 L1276.6,1514.5 L1281.6,1514.2 L1286.6,1513.8 L1291.6,1513.5 L1296.6,1513.2 L1301.6,1512.8 L1306.6,1512.5 L1311.6,1512.1 L1316.5,1511.7 L1321.5,1511.3 L1326.5,1510.9 L1331.4,1510.5 L1336.4,1510.0 L1341.4,1509.6 L1346.3,1509.1 L1351.3,1508.6 L1356.2,1508.0 L1361.1,1507.5 L1366.1,1506.9 L1371.0,1506.4 L1375.9,1505.8 L1380.9,1505.2 L1385.8,1504.5 L1390.7,1503.9 L1395.7,1503.2 L1400.6,1502.5 L1405.5,1501.8 L1410.4,1501.1 L1415.3,1500.4 L1420.3,1499.6 L1425.2,1498.9 L1430.1,1498.1 L1435.0,1497.3 L1439.9,1496.5 L1444.9,1495.6 L1449.8,1494.8 L1454.7,1493.9 L1459.6,1493.0 L1464.6,1492.1 L1469.5,1491.2 L1474.4,1490.3 L1479.3,1489.4 L1484.3,1488.4 L1489.2,1487.4 L1494.1,1486.4 L1499.1,1485.4 L1504.0,1484.4 L1509.0,1483.4 L1513.9,1482.3 L1518.9,1481.3 L1523.8,1480.2 L1528.7,1479.1 L1533.7,1477.9 L1538.6,1476.8 L1543.6,1475.6 L1548.5,1474.4 L1553.4,1473.2 L1558.3,1471.9 L1563.2,1470.6 L1568.1,1469.3 L1573.0,1467.9 L1577.8,1466.5 L1582.7,1465.1 L1587.5,1463.6 L1592.3,1462.1 L1597.1,1460.6 L1601.9,1459.0 L1606.6,1457.4 L1611.3,1455.7 L1616.0,1454.0 L1620.7,1452.2 L1625.4,1450.4 L1630.0,1448.6 L1634.6,1446.7 L1639.2,1444.7 L1643.7,1442.7 L1648.2,1440.7 L1652.7,1438.5 L1657.1,1436.4 L1661.5,1434.1 L1665.9,1431.8 L1670.2,1429.5 L1674.5,1427.1 L1678.8,1424.6 L1683.0,1422.1 L1687.1,1419.4 L1691.3,1416.8 L1695.3,1414.0 L1699.4,1411.2 L1703.4,1408.3 L1707.3,1405.4 L1711.2,1402.4 L1715.1,1399.3 L1718.9,1396.1 L1722.6,1392.9 L1726.4,1389.7 L1730.1,1386.4 L1733.7,1383.0 L1737.4,1379.6 L1741.0,1376.1 L1744.6,1372.6 L1748.1,1369.1 L1751.6,1365.5 L1755.1,1361.9 L1758.6,1358.3 L1762.1,1354.6 L1765.5,1350.9 L1769.0,1347.2 L1772.4,1343.5 L1775.8,1339.7 L1779.1,1336.0 L1782.5,1332.2 L1785.9,1328.4 L1789.3,1324.6 L1792.6,1320.8 L1796.0,1317.0 L1799.3,1313.3 L1802.7,1309.5 L1806.1,1305.7 L1809.4,1301.9 L1812.8,1298.2 L1816.2,1294.4 L1819.6,1290.7 L1823.0,1287.0 L1826.4,1283.3 L1829.8,1279.6 L1833.2,1275.9 L1836.6,1272.3 L1840.1,1268.6 L1843.5,1265.0 L1846.9,1261.4 L1850.4,1257.8 L1853.9,1254.2 L1857.3,1250.6 L1860.8,1247.0 L1864.3,1243.4 L1867.8,1239.9 L1871.3,1236.4 L1874.8,1232.8 L1878.3,1229.3 L1881.8,1225.8 L1885.3,1222.3 L1888.8,1218.8 L1892.4,1215.3 L1895.9,1211.8 L1899.5,1208.3 L1903.0,1204.8 L1906.6,1201.4 L1910.1,1197.9 L1913.7,1194.5 L1917.2,1191.0 L1920.8,1187.6 L1924.4,1184.1 L1928.0,1180.7 L1931.6,1177.3 L1935.2,1173.8 L1938.8,1170.4 L1942.4,1167.0 L1946.0,1163.5 L1949.6,1160.1 L1953.2,1156.7 L1956.8,1153.3 L1960.4,1149.9 L1964.0,1146.4 L1967.7,1143.0 L1971.3,1139.6 L1974.9,1136.2 L1978.6,1132.7 L1982.2,1129.3 L1985.9,1125.9 L1989.5,1122.5 L1993.1,1119.0 L1996.8,1115.6 L2000.4,1112.1 L2004.0,1108.7 L2007.7,1105.2 L2011.3,1101.7 L2014.9,1098.2 L2018.5,1094.7 L2022.0,1091.2 L2025.6,1087.7 L2029.1,1084.1 L2032.6,1080.5 L2036.1,1076.9 L2039.6,1073.3 L2043.1,1069.7 L2046.5,1066.1 L2049.9,1062.4 L2053.3,1058.7 L2056.6,1055.0 L2060.0,1051.2 L2063.2,1047.4 L2066.5,1043.6 L2069.7,1039.8 L2072.9,1036.0 L2076.0,1032.1 L2079.1,1028.2 L2082.2,1024.2 L2085.3,1020.3 L2088.3,1016.3 L2091.3,1012.3 L2094.2,1008.2 L2097.2,1004.2 L2100.1,1000.1 L2102.9,996.0 L2105.7,991.9 L2108.5,987.7 L2111.3,983.6 L2114.1,979.4 L2116.8,975.2 L2119.5,971.0 L2122.1,966.7 L2124.7,962.4 L2127.3,958.2 L2129.9,953.9 L2132.4,949.6 L2135.0,945.2 L2137.5,940.9 L2139.9,936.5 L2142.3,932.2 L2144.8,927.8 L2147.1,923.4 L2149.5,918.9 L2151.8,914.5 L2154.1,910.1 L2156.4,905.6 L2158.7,901.2 L2160.9,896.7 L2163.1,892.2 L2165.3,887.7 L2167.4,883.2 L2169.6,878.7 L2171.7,874.2 L2173.8,869.6 L2175.8,865.1 L2177.9,860.5 L2179.9,856.0 L2181.9,851.4 L2183.9,846.8 L2185.8,842.2 L2187.8,837.6 L2189.7,833.0 L2191.6,828.4 L2193.4,823.8 L2195.3,819.1 L2197.1,814.5 L2199.0,809.8 L2200.7,805.2 L2202.5,800.5 L2204.3,795.9 L2206.0,791.2 L2207.8,786.5 L2209.5,781.8 L2211.1,777.1 L2212.8,772.4 L2214.5,767.7 L2216.1,763.0 L2217.7,758.2 L2219.3,753.5 L2220.9,748.8 L2222.5,744.0 L2224.1,739.3 L2225.6,734.5 L2227.1,729.8 L2228.7,725.0 L2230.2,720.2 L2231.6,715.5 L2233.1,710.7 L2234.6,705.9 L2236.0,701.1 L2237.5,696.3 L2238.9,691.5 L2240.3,686.7 L2241.7,681.9 L2243.1,677.1 L2244.5,672.3 L2245.8,667.5 L2247.2,662.7 L2248.5,657.9 L2249.9,653.0 L2251.2,648.2 L2252.5,643.4 L2253.8,638.5 L2255.1,633.7 L2256.4,628.9 L2257.7,624.0 L2259.0,619.2 L2260.2,614.3 L2261.5,609.5 L2262.8,604.6 L2264.0,599.8 L2265.2,594.9 L2266.5,590.1 L2267.7,585.2 L2268.9,580.4 L2270.1,575.5 L2271.3,570.7 L2272.5,565.8 L2273.7,560.9 L2274.9,556.1 L2276.1,551.2 L2277.3,546.4 L2278.5,541.5 L2279.7,536.7 L2280.8,531.8 L2282.0,526.9 L2283.2,522.1 L2284.3,517.2 L2285.5,512.4 L2286.7,507.5 L2287.8,502.7 L2289.0,497.8 L2290.2,493.0 L2291.3,488.1 L2292.5,483.3 L2293.6,478.4 L2294.8,473.6 L2294.8,478.6 L2294.8,483.6 L2294.8,488.6 L2294.7,493.6 L2294.6,498.6 L2294.5,503.6 L2294.3,508.6 L2294.2,513.5 L2293.9,518.5 L2293.7,523.5 L2293.4,528.5 L2293.1,533.5 L2292.8,538.5 L2292.4,543.4 L2292.1,548.4 L2291.7,553.4 L2291.3,558.4 L2290.8,563.4 L2290.4,568.3 L2289.9,573.3 L2289.4,578.3 L2288.9,583.3 L2288.3,588.2 L2287.8,593.2 L2287.2,598.2 L2286.6,603.1 L2286.0,608.1 L2285.4,613.1 L2284.8,618.0 L2284.2,623.0 L2283.5,628.0 L2282.9,632.9 L2282.2,637.9 L2281.5,642.8 L2280.8,647.8 L2280.1,652.8 L2279.4,657.7 L2278.7,662.7 L2278.0,667.6 L2277.3,672.6 L2276.6,677.5 L2275.9,682.5 L2275.2,687.4 L2274.4,692.4 L2273.7,697.3 L2273.0,702.2 L2272.3,707.2 L2271.6,712.1 L2270.8,717.1 L2270.1,722.0 L2269.4,726.9 L2268.7,731.9 L2268.0,736.8 L2267.3,741.7 L2266.6,746.7 L2265.9,751.6 L2265.2,756.5 L2264.5,761.5 L2263.9,766.4 L2263.2,771.3 L2262.5,776.2 L2261.8,781.2 L2261.1,786.1 L2260.4,791.0 L2259.7,795.9 L2259.0,800.9 L2258.3,805.8 L2257.7,810.7 L2257.0,815.6 L2256.3,820.6 L2255.6,825.5 L2254.9,830.4 L2254.1,835.3 L2253.4,840.2 L2252.7,845.2 L2252.0,850.1 L2251.3,855.0 L2250.5,859.9 L2249.8,864.9 L2249.1,869.8 L2248.3,874.7 L2247.6,879.6 L2246.8,884.6 L2246.0,889.5 L2245.2,894.4 L2244.5,899.3 L2243.7,904.3 L2242.9,909.2 L2242.0,914.1 L2241.2,919.1 L2240.4,924.0 L2239.5,928.9 L2238.7,933.9 L2237.8,938.8 L2236.9,943.8 L2236.1,948.7 L2235.2,953.6 L2234.2,958.6 L2233.3,963.5 L2232.4,968.4 L2231.4,973.4 L2230.5,978.3 L2229.5,983.2 L2228.5,988.2 L2227.5,993.1 L2226.4,998.0 L2225.4,1003.0 L2224.4,1007.9 L2223.3,1012.8 L2222.2,1017.7 L2221.1,1022.6 L2220.0,1027.5 L2218.8,1032.4 L2217.7,1037.3 L2216.5,1042.2 L2215.3,1047.1 L2214.1,1052.0 L2212.8,1056.8 L2211.6,1061.7 L2210.3,1066.5 L2209.0,1071.4 L2207.7,1076.2 L2206.3,1081.1 L2205.0,1085.9 L2203.6,1090.7 L2202.2,1095.5 L2200.8,1100.3 L2199.3,1105.1 L2197.8,1109.9 L2196.3,1114.7 L2194.8,1119.4 L2193.3,1124.2 L2191.7,1128.9 L2190.1,1133.6 L2188.5,1138.3 L2186.8,1143.0 L2185.1,1147.7 L2183.4,1152.4 L2181.7,1157.1 L2180.0,1161.7 L2178.2,1166.4 L2176.4,1171.0 L2174.5,1175.6 L2172.6,1180.2 L2170.7,1184.8 L2168.8,1189.4 L2166.9,1193.9 L2164.9,1198.5 L2162.8,1203.0 L2160.8,1207.5 L2158.7,1212.0 L2156.6,1216.4 L2154.4,1220.9 L2152.3,1225.3 L2150.1,1229.7 L2147.8,1234.2 L2145.5,1238.5 L2143.2,1242.9 L2140.9,1247.2 L2138.5,1251.6 L2136.1,1255.9 L2133.6,1260.2 L2131.1,1264.4 L2128.6,1268.7 L2126.0,1272.9 L2123.5,1277.1 L2120.8,1281.3 L2118.1,1285.5 L2115.4,1289.6 L2112.7,1293.7 L2109.9,1297.8 L2107.1,1301.9 L2104.2,1305.9 L2101.3,1309.9 L2098.4,1313.9 L2095.4,1317.9 L2092.4,1321.9 L2089.3,1325.8 L2086.2,1329.7 L2083.0,1333.6 L2079.8,1337.4 L2076.6,1341.3 L2073.3,1345.1 L2070.0,1348.8 L2066.7,1352.6 L2063.3,1356.3 L2059.9,1360.0 L2056.5,1363.7 L2053.0,1367.3 L2049.5,1370.9 L2045.9,1374.5 L2042.4,1378.1 L2038.8,1381.6 L2035.1,1385.1 L2031.5,1388.6 L2027.8,1392.0 L2024.1,1395.5 L2020.4,1398.8 L2016.6,1402.2 L2012.8,1405.5 L2009.0,1408.9 L2005.2,1412.1 L2001.3,1415.4 L1997.4,1418.6 L1993.5,1421.8 L1989.6,1424.9 L1985.7,1428.1 L1981.7,1431.1 L1977.7,1434.2 L1973.7,1437.2 L1969.7,1440.2 L1965.6,1443.2 L1961.5,1446.1 L1957.5,1449.0 L1953.3,1451.9 L1949.2,1454.8 L1945.1,1457.6 L1940.9,1460.4 L1936.7,1463.1 L1932.5,1465.8 L1928.3,1468.5 L1924.1,1471.2 L1919.8,1473.8 L1915.5,1476.4 L1911.3,1479.0 L1907.0,1481.5 L1902.6,1484.0 L1898.3,1486.5 L1893.9,1488.9 L1889.6,1491.3 L1885.2,1493.7 L1880.8,1496.1 L1876.4,1498.4 L1872.0,1500.7 L1867.5,1502.9 L1863.1,1505.2 L1858.6,1507.4 L1854.1,1509.6 L1849.6,1511.7 L1845.1,1513.8 L1840.6,1515.9 L1836.0,1517.9 L1831.5,1520.0 L1826.9,1522.0 L1822.3,1523.9 L1817.8,1525.9 L1813.2,1527.8 L1808.6,1529.6 L1803.9,1531.5 L1799.3,1533.3 L1794.7,1535.1 L1790.0,1536.9 L1785.4,1538.6 L1780.7,1540.3 L1776.0,1542.0 L1771.3,1543.6 L1766.6,1545.2 L1761.9,1546.8 L1757.2,1548.4 L1752.5,1549.9 L1747.7,1551.4 L1743.0,1552.9 L1738.3,1554.3 L1733.5,1555.7 L1728.7,1557.1 L1724.0,1558.5 L1719.2,1559.8 L1714.4,1561.1 L1709.6,1562.4 L1704.8,1563.7 L1700.0,1564.9 L1695.2,1566.1 L1690.4,1567.3 L1685.5,1568.5 L1680.7,1569.6 L1675.9,1570.7 L1671.0,1571.8 L1666.2,1572.9 L1661.3,1573.9 L1656.4,1575.0 L1651.6,1576.0 L1646.7,1577.0 L1641.8,1577.9 L1636.9,1578.9 L1632.0,1579.8 L1627.1,1580.7 L1622.2,1581.6 L1617.3,1582.4 L1612.4,1583.3 L1607.5,1584.1 L1602.6,1584.9 L1597.7,1585.7 L1592.7,1586.5 L1587.8,1587.3 L1582.9,1588.0 L1577.9,1588.8 L1573.0,1589.5 L1568.0,1590.2 L1563.1,1590.8 L1558.1,1591.5 L1553.2,1592.2 L1548.2,1592.8 L1543.2,1593.4 L1538.3,1594.1 L1533.3,1594.7 L1528.3,1595.2 L1523.3,1595.8 L1518.4,1596.4 L1513.4,1596.9 L1508.4,1597.5 L1503.4,1598.0 L1498.4,1598.5 L1493.4,1599.1 L1488.4,1599.6 L1483.5,1600.1 L1478.5,1600.5 L1473.5,1601.0 L1468.5,1601.5 L1463.5,1601.9 L1458.5,1602.4 L1453.5,1602.8 L1448.5,1603.3 L1443.5,1603.7 L1438.5,1604.1 L1433.5,1604.6 L1428.5,1605.0 L1423.5,1605.4 L1418.5,1605.8 L1413.5,1606.2 L1408.5,1606.6 L1403.5,1607.0 L1398.5,1607.4 L1393.5,1607.8 L1388.5,1608.2 L1383.5,1608.6 L1378.5,1608.9 L1373.5,1609.3 L1368.5,1609.7 L1363.5,1610.1 L1358.5,1610.4 L1353.5,1610.8 L1348.6,1611.2 L1343.6,1611.5 L1338.6,1611.9 L1333.6,1612.3 L1328.6,1612.6 L1323.6,1613.0 L1318.6,1613.3 L1313.6,1613.7 L1308.6,1614.0 L1303.7,1614.4 L1298.7,1614.7 L1293.7,1615.1 L1288.7,1615.4 L1283.7,1615.7 L1278.7,1616.1 L1273.7,1616.4 L1268.8,1616.7 L1263.8,1617.1 L1258.8,1617.4 L1253.8,1617.7 L1248.8,1618.0 L1243.8,1618.4 L1238.9,1618.7 L1233.9,1619.0 L1228.9,1619.3 L1223.9,1619.6 L1218.9,1619.9 L1214.0,1620.2 L1209.0,1620.6 L1204.0,1620.9 L1199.0,1621.2 L1194.0,1621.5 L1189.1,1621.8 L1184.1,1622.1 L1179.1,1622.4 L1174.1,1622.7 L1169.2,1623.0 L1164.2,1623.3 L1159.2,1623.6 L1154.2,1623.9 L1149.2,1624.2 L1144.3,1624.5 L1139.3,1624.7 L1134.3,1625.0 L1129.3,1625.3 L1124.4,1625.6 L1119.4,1625.9 L1114.4,1626.2 L1109.4,1626.5 L1104.5,1626.8 L1099.5,1627.0 L1094.5,1627.3 L1089.5,1627.6 L1084.5,1627.9 L1079.6,1628.2 L1074.6,1628.4 L1069.6,1628.7 L1064.6,1629.0 L1059.7,1629.3 L1054.7,1629.6 L1049.7,1629.8 L1044.7,1630.1 L1039.7,1630.4 L1034.8,1630.7 L1029.8,1630.9 L1024.8,1631.2 L1019.8,1631.5 L1014.9,1631.8 L1009.9,1632.0 L1004.9,1632.3 L999.9,1632.6 L994.9,1632.8 L990.0,1633.1 L985.0,1633.4 L980.0,1633.7 L975.0,1633.9 L970.0,1634.2 L965.1,1634.5 L960.1,1634.8 L955.1,1635.0 L950.1,1635.3 L945.1,1635.6 L940.1,1635.9 L935.2,1636.1 L930.2,1636.4 L925.2,1636.7 L920.2,1636.9 L915.2,1637.2 L910.2,1637.5 L905.3,1637.8 L900.3,1638.0 L895.3,1638.3 L890.3,1638.6 L885.3,1638.9 L880.3,1639.2 L875.3,1639.4 L870.3,1639.7 L865.4,1640.0 L860.4,1640.3 L855.4,1640.6 L850.4,1640.8 L845.4,1641.1 L840.4,1641.4 L835.4,1641.7 L830.4,1642.0 L825.4,1642.3 L820.4,1642.6 L815.4,1642.9 L810.4,1643.1 L805.5,1643.4 L800.5,1643.7 L795.5,1644.0 L790.5,1644.3 L785.5,1644.6 L780.5,1645.0 L775.5,1645.3 L770.5,1645.6 L765.5,1645.9 L760.5,1646.2 L755.5,1646.5 L750.5,1646.9 L745.5,1647.2 L740.5,1647.5 L735.5,1647.8 L730.6,1648.2 L725.6,1648.5 L720.6,1648.9 L715.6,1649.2 L710.6,1649.5 L705.6,1649.9 L700.6,1650.3 L695.6,1650.6 L690.6,1651.0 L685.7,1651.4 L680.7,1651.7 L675.7,1652.1 L670.7,1652.5 L665.7,1652.9 L660.7,1653.3 L655.7,1653.7 L650.8,1654.1 L645.8,1654.5 L640.8,1654.9 L635.8,1655.3 L630.8,1655.7 L625.9,1656.1 L620.9,1656.6 L615.9,1657.0 L610.9,1657.4 L606.0,1657.9 L601.0,1658.3 L596.0,1658.8 L591.0,1659.3 L586.1,1659.7 L581.1,1660.2 L576.1,1660.7 L571.2,1661.2 L566.2,1661.7 L561.3,1662.2 L556.3,1662.7 L551.3,1663.2 L546.4,1663.7 L541.4,1664.3 L536.5,1664.8 L531.5,1665.3 L526.6,1665.9 L521.6,1666.5 L516.7,1667.0 L511.7,1667.6 L506.8,1668.2 L501.8,1668.8 L496.9,1669.4 L491.9,1670.0 L487.0,1670.6 L482.1,1671.2 L477.1,1671.8 L472.2,1672.5 L467.3,1673.1 L462.3,1673.8 L457.4,1674.4 L452.5,1675.1 L447.6,1675.8 L442.7,1676.4 L437.7,1677.1 L432.8,1677.8 L427.9,1678.6 L423.0,1679.3 L418.1,1680.0 L413.2,1680.8 L408.3,1681.5 L403.4,1682.3 L398.5,1683.0 L393.6,1683.8 L388.7,1684.6 L383.8,1685.4"/>
</g>
<path d="M2087.3038,943.0000 A320.968,655.034 0 0 1 1445.6962,988.8000 A320.968,655.034 0 0 1 2087.3038,943.0000" fill="none" stroke="#000" stroke-width="7.4" stroke-dasharray="17.2 11.96" pathLength="3160"/>
<g font-size="71px">
<text x="473.8" y="156" letter-spacing="0.8">CH</text><text x="571.7" y="174" font-size="46px" textLength="21" lengthAdjust="spacingAndGlyphs">3</text><text x="596.1" y="156">OH concentration</text>
<path d="M468.8,235.3 H638.1" stroke="#fb0000" stroke-width="8.8" fill="none"/>
<text x="651" y="258.7">10</text><text x="720.3" y="258.7" textLength="66" lengthAdjust="spacingAndGlyphs">%</text>
<path d="M468.8,323.3 H638.1" stroke="#0000ff" stroke-width="8.8" fill="none"/>
<text x="651" y="346.7">20</text><text x="720.3" y="346.7" textLength="66" lengthAdjust="spacingAndGlyphs">%</text>
<path d="M468.8,410.7 H638.1" stroke="#ff8000" stroke-width="8.8" fill="none"/>
<text x="651" y="434.1">30</text><text x="720.3" y="434.1" textLength="66" lengthAdjust="spacingAndGlyphs">%</text>
<path d="M468.8,498.4 H638.1" stroke="#35ac6b" stroke-width="8.8" fill="none"/>
<text x="651" y="521.8">40</text><text x="720.3" y="521.8" textLength="66" lengthAdjust="spacingAndGlyphs">%</text>
<path d="M468.8,585.5 H638.1" stroke="#af77dd" stroke-width="8.8" fill="none"/>
<text x="651" y="608.9">50</text><text x="720.3" y="608.9" textLength="66" lengthAdjust="spacingAndGlyphs">%</text>
</g>
<g font-size="78px"><text x="1170.2" y="395.7" letter-spacing="1.05">AZM</text><text x="1110" y="492" letter-spacing="0.34">oxidation</text></g>
<path d="M410,922 H616" stroke="#000" stroke-width="2" fill="none"/>
<path d="M656,922 L612.1,910.9 L612.1,933.1 Z" fill="#000"/>
<path d="M1257.0,543.7 L1255.5,547.7 L1254.0,551.8 L1252.6,556.0 L1251.3,560.2 L1250.1,564.4 L1248.9,568.6 L1247.9,572.9 L1246.9,577.3 L1246.0,581.6 L1245.1,586.0 L1244.4,590.4 L1243.8,594.8 L1243.2,599.3 L1242.8,603.7 L1242.4,608.2 L1242.2,612.6 L1242.0,617.1 L1241.9,621.5 L1242.0,626.0 L1242.1,630.4 L1242.4,634.9 L1242.7,639.3 L1243.2,643.7 L1243.8,648.1 L1244.5,652.5 L1245.3,656.8 L1246.2,661.1 L1247.3,665.4 L1248.5,669.6 L1249.8,673.8 L1251.2,677.9 L1252.7,682.0 L1254.4,686.1 L1256.2,690.1 L1258.1,694.0 L1260.2,697.9 L1262.3,701.7 L1264.6,705.5 L1267.0,709.2 L1269.5,712.8 L1272.1,716.3 L1274.8,719.7 L1277.6,723.1 L1280.6,726.3 L1283.6,729.5 L1286.7,732.6 L1290.0,735.5 L1293.3,738.4 L1296.8,741.2 L1300.3,743.8 L1303.9,746.3 L1307.6,748.8 L1311.4,751.0 L1315.3,753.2 L1319.3,755.2 L1323.3,757.1 L1327.5,758.9 L1331.7,760.5 L1336.0,762.0" stroke="#000" stroke-width="2" fill="none"/>
<path d="M1371.7,776.3 L1334.8,750.9 L1327.3,771.9 Z" fill="#000"/>
</svg></body></html>
